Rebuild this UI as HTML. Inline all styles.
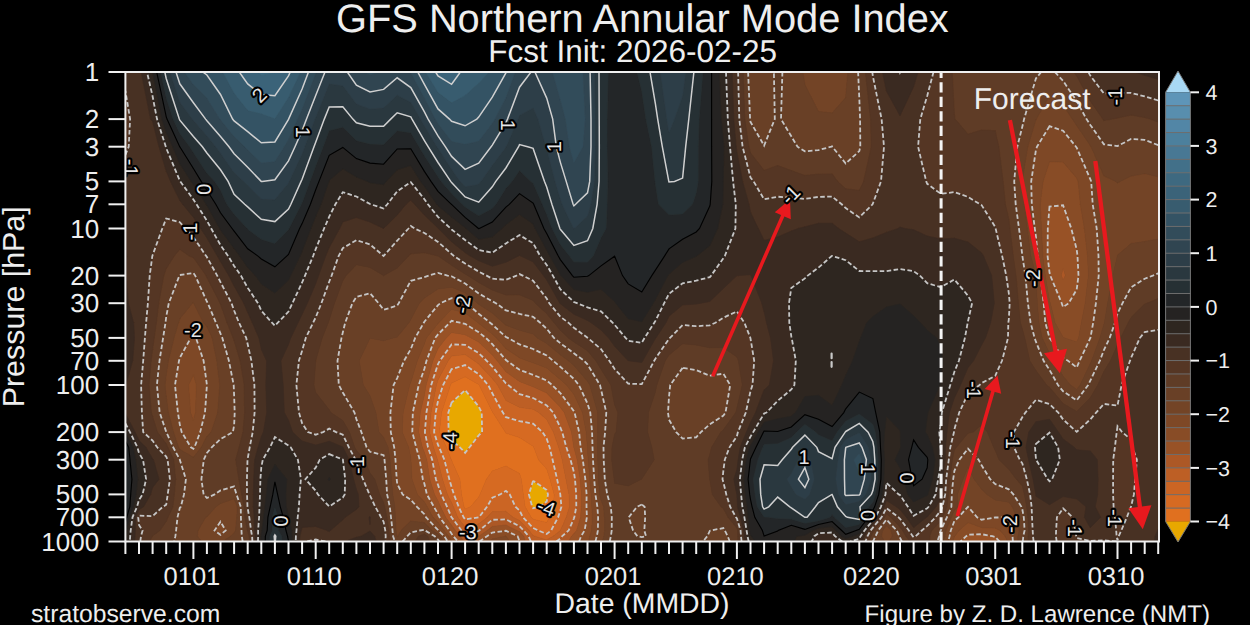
<!DOCTYPE html><html><head><meta charset="utf-8"><style>html,body{margin:0;padding:0;background:#000;overflow:hidden}svg{display:block}.n{fill:none;stroke:#c6c6c6;stroke-width:1.8;stroke-dasharray:4.6 2.4}.z{fill:none;stroke:#000;stroke-width:1.1}.p{fill:none;stroke:#d0d0d0;stroke-width:1.5}text{font-family:"Liberation Sans",sans-serif;fill:#eeeeee;text-rendering:geometricPrecision}.cl{font-size:20px;fill:#e6e6e6;stroke:#000;stroke-width:4.2px;paint-order:stroke;stroke-linejoin:round}</style></head><body>
<svg width="1250" height="625" viewBox="0 0 1250 625">
<rect width="1250" height="625" fill="#000"/>
<defs><clipPath id="pc"><rect x="125.4" y="72.0" width="1033.6" height="469.5"/></clipPath></defs>
<g clip-path="url(#pc)"><rect x="125.4" y="72.0" width="1033.6" height="469.5" fill="#483123"/>
<g stroke-width="0.6" fill-rule="evenodd">
<path fill="#e8a800" stroke="#e8a800" d="M451.6 402.6 465.1 390.1 478.7 406.5 481.7 412.6 482.1 432.1 478.7 435.4 469.5 447.3 465.1 452.8 459.9 447.3 451.6 440.1 448.6 432.1 448.3 412.6Z M533.1 480.7 546.7 490.0 548.0 494.4 546.7 501.6 539.1 506.8 533.1 508.2 532.2 506.8 528.9 494.4Z"/>
<path fill="#e0701f" stroke="#e0701f" d="M451.6 383.1 465.1 376.7 478.7 384.5 479.2 385.0 492.3 411.7 492.8 412.6 505.3 432.1 505.9 433.0 519.5 437.6 533.1 446.2 533.8 447.3 538.5 459.7 546.7 468.9 550.0 479.2 554.2 494.4 553.4 506.8 549.6 517.3 546.7 522.4 533.1 519.3 531.2 517.3 525.1 506.8 523.3 494.4 521.4 479.2 519.5 473.6 505.9 466.1 492.3 471.1 486.4 479.2 480.0 494.4 478.7 497.1 470.6 506.8 465.1 509.1 464.0 506.8 461.6 494.4 459.9 479.2 451.6 460.5 451.3 459.7 446.4 447.3 439.4 432.1 441.5 412.6 450.5 385.0Z M448.3 412.6 448.6 432.1 451.6 440.1 459.9 447.3 465.1 452.8 469.5 447.3 478.7 435.4 482.1 432.1 481.7 412.6 478.7 406.5 465.1 390.1 451.6 402.6Z M528.9 494.4 532.2 506.8 533.1 508.2 539.1 506.8 546.7 501.6 548.0 494.4 546.7 490.0 533.1 480.7Z"/>
<path fill="#d66a22" stroke="#d66a22" d="M451.6 369.1 465.1 365.1 478.7 374.2 488.2 385.0 492.3 393.3 502.9 412.6 505.9 417.2 519.5 421.1 533.1 423.7 542.5 432.1 546.7 438.6 549.6 447.3 552.6 459.7 557.1 479.2 560.3 494.3 560.3 494.4 561.4 506.8 560.3 510.6 558.1 517.3 551.1 530.5 546.7 534.0 538.2 530.5 533.1 528.0 522.9 517.3 519.5 510.4 515.4 506.8 509.7 494.4 505.9 490.8 500.1 494.4 492.3 497.7 487.0 506.8 478.9 517.3 478.7 517.4 465.1 519.3 463.6 517.3 458.7 506.8 453.9 494.4 451.6 487.0 449.3 479.2 444.4 459.7 439.1 447.3 438.0 444.9 434.1 432.1 435.7 412.6 438.0 401.1 443.1 385.0Z M450.5 385.0 441.5 412.6 439.4 432.1 446.4 447.3 451.3 459.7 451.6 460.5 459.9 479.2 461.6 494.4 464.0 506.8 465.1 509.1 470.6 506.8 478.7 497.1 480.0 494.4 486.4 479.2 492.3 471.1 505.9 466.1 519.5 473.6 521.4 479.2 523.3 494.4 525.1 506.8 531.2 517.3 533.1 519.3 546.7 522.4 549.6 517.3 553.4 506.8 554.2 494.4 550.0 479.2 546.7 468.9 538.5 459.7 533.8 447.3 533.1 446.2 519.5 437.6 505.9 433.0 505.3 432.1 492.8 412.6 492.3 411.7 479.2 385.0 478.7 384.5 465.1 376.7 451.6 383.1Z"/>
<path fill="#cb6524" stroke="#cb6524" d="M451.6 356.1 465.1 354.6 474.2 360.8 478.7 364.0 492.3 378.5 497.6 385.0 505.9 400.3 519.5 407.3 533.1 409.3 538.7 412.6 546.7 419.5 553.4 432.1 558.7 447.3 560.3 452.6 562.2 459.7 566.0 479.2 569.0 494.4 569.5 506.8 566.3 517.3 560.5 530.5 560.3 530.7 553.1 536.2 546.7 539.9 534.7 536.2 533.1 535.5 529.1 530.5 519.5 520.6 513.0 517.3 505.9 511.4 492.3 511.8 487.3 517.3 478.7 524.1 465.1 527.3 457.6 517.3 453.3 506.8 451.6 502.8 447.4 494.4 442.5 479.2 438.0 461.7 437.5 459.7 433.4 447.3 429.5 432.1 431.0 412.6 436.4 385.0 438.0 380.0 448.2 360.8Z M443.1 385.0 438.0 401.1 435.7 412.6 434.1 432.1 438.0 444.9 439.1 447.3 444.4 459.7 449.3 479.2 451.6 487.0 453.9 494.4 458.7 506.8 463.6 517.3 465.1 519.3 478.7 517.4 478.9 517.3 487.0 506.8 492.3 497.7 500.1 494.4 505.9 490.8 509.7 494.4 515.4 506.8 519.5 510.4 522.9 517.3 533.1 528.0 538.2 530.5 546.7 534.0 551.1 530.5 558.1 517.3 560.3 510.6 561.4 506.8 560.3 494.4 560.3 494.3 557.1 479.2 552.6 459.7 549.6 447.3 546.7 438.6 542.5 432.1 533.1 423.7 519.5 421.1 505.9 417.2 502.9 412.6 492.3 393.3 488.2 385.0 478.7 374.2 465.1 365.1 451.6 369.1Z"/>
<path fill="#bd5f25" stroke="#bd5f25" d="M451.6 344.4 465.1 344.8 478.7 353.1 486.7 360.8 492.3 366.5 505.9 383.4 508.2 385.0 519.5 394.1 533.1 398.0 546.7 405.4 553.2 412.6 560.3 427.3 562.2 432.1 566.4 447.3 570.5 459.7 573.9 472.1 575.0 479.2 576.2 494.4 576.3 506.8 574.3 517.3 573.9 518.5 568.6 530.5 562.2 536.2 560.3 538.5 556.4 541.5 546.7 541.5 533.1 541.5 531.0 541.5 528.6 536.2 523.6 530.5 519.5 526.2 505.9 519.4 492.3 519.8 479.2 530.5 478.7 530.8 465.1 534.3 461.5 530.5 451.6 517.3 451.5 517.3 447.1 506.8 441.3 494.4 438.0 484.9 435.9 479.2 432.2 459.7 428.0 447.3 424.9 432.1 426.4 412.6 431.2 385.0 438.0 364.1 439.8 360.8Z M448.2 360.8 438.0 380.0 436.4 385.0 431.0 412.6 429.5 432.1 433.4 447.3 437.5 459.7 438.0 461.7 442.5 479.2 447.4 494.4 451.6 502.8 453.3 506.8 457.6 517.3 465.1 527.3 478.7 524.1 487.3 517.3 492.3 511.8 505.9 511.4 513.0 517.3 519.5 520.6 529.1 530.5 533.1 535.5 534.7 536.2 546.7 539.9 553.1 536.2 560.3 530.7 560.5 530.5 566.3 517.3 569.5 506.8 569.0 494.4 566.0 479.2 562.2 459.7 560.3 452.6 558.7 447.3 553.4 432.1 546.7 419.5 538.7 412.6 533.1 409.3 519.5 407.3 505.9 400.3 497.6 385.0 492.3 378.5 478.7 364.0 474.2 360.8 465.1 354.6 451.6 356.1Z"/>
<path fill="#ac5826" stroke="#ac5826" d="M1063.1 268.1 1065.4 275.6 1063.1 280.1 1061.3 275.6Z M451.6 332.6 465.1 334.7 471.2 337.9 478.7 342.0 492.3 355.1 497.2 360.8 505.9 371.7 519.5 381.4 528.5 385.0 533.1 386.8 546.7 393.0 560.3 407.3 564.2 412.6 571.5 432.1 573.8 447.3 573.9 447.4 577.2 459.7 580.2 479.2 581.4 494.4 581.4 506.8 580.6 517.3 576.6 530.5 573.9 533.8 571.6 536.2 568.4 541.5 560.3 541.5 556.4 541.5 560.3 538.5 562.2 536.2 568.6 530.5 573.9 518.5 574.3 517.3 576.3 506.8 576.2 494.4 575.0 479.2 573.9 472.1 570.5 459.7 566.4 447.3 562.2 432.1 560.3 427.3 553.2 412.6 546.7 405.4 533.1 398.0 519.5 394.1 508.2 385.0 505.9 383.4 492.3 366.5 486.7 360.8 478.7 353.1 465.1 344.8 451.6 344.4 439.8 360.8 438.0 364.1 431.2 385.0 426.4 412.6 424.9 432.1 428.0 447.3 432.2 459.7 435.9 479.2 438.0 484.9 441.3 494.4 447.1 506.8 451.5 517.3 451.6 517.3 461.5 530.5 465.1 534.3 478.7 530.8 479.2 530.5 492.3 519.8 505.9 519.4 519.5 526.2 523.6 530.5 528.6 536.2 531.0 541.5 525.3 541.5 523.7 536.2 519.5 531.8 516.6 530.5 505.9 525.1 492.3 526.4 487.3 530.5 478.8 536.2 478.7 536.2 468.0 541.5 465.1 541.5 463.7 541.5 460.3 536.2 455.4 530.5 451.6 525.3 445.6 517.3 440.5 506.8 438.0 501.1 434.5 494.4 429.7 479.2 426.8 459.7 424.4 452.6 422.3 447.3 418.7 432.1 420.2 412.6 424.4 395.1 426.1 385.0 432.9 360.8 438.0 348.5 446.2 337.9Z M981.6 540.1 986.4 541.5 981.6 541.5 973.3 541.5Z"/>
<path fill="#985226" stroke="#985226" d="M1049.5 206.6 1063.1 205.3 1071.3 228.5 1076.7 249.5 1077.5 256.1 1078.5 275.6 1076.7 289.6 1068.7 303.2 1063.1 307.1 1061.7 303.2 1050.3 275.6 1049.5 272.5 1047.6 256.1 1047.8 228.5Z M1061.3 275.6 1063.1 280.1 1065.4 275.6 1063.1 268.1Z M451.6 320.8 460.0 322.7 465.1 323.8 478.7 332.2 485.8 337.9 492.3 344.2 505.9 360.0 506.9 360.8 519.5 369.8 533.1 374.9 546.7 380.5 552.0 385.0 560.3 393.0 573.9 411.1 574.6 412.6 579.1 432.1 580.6 447.3 582.8 459.7 585.3 479.2 586.6 494.4 586.5 506.8 586.9 517.3 584.6 530.5 581.1 536.2 579.1 541.5 573.9 541.5 568.4 541.5 571.6 536.2 573.9 533.8 576.6 530.5 580.6 517.3 581.4 506.8 581.4 494.4 580.2 479.2 577.2 459.7 573.9 447.4 573.8 447.3 571.5 432.1 564.2 412.6 560.3 407.3 546.7 393.0 533.1 386.8 528.5 385.0 519.5 381.4 505.9 371.7 497.2 360.8 492.3 355.1 478.7 342.0 471.2 337.9 465.1 334.7 451.6 332.6 446.2 337.9 438.0 348.5 432.9 360.8 426.1 385.0 424.4 395.1 420.2 412.6 418.7 432.1 422.3 447.3 424.4 452.6 426.8 459.7 429.7 479.2 434.5 494.4 438.0 501.1 440.5 506.8 445.6 517.3 451.6 525.3 455.4 530.5 460.3 536.2 463.7 541.5 458.0 541.5 453.3 536.2 451.6 533.8 449.5 530.5 439.6 517.3 438.0 514.0 433.9 506.8 426.9 494.4 424.4 483.8 422.8 479.2 419.7 459.7 416.2 447.3 412.3 432.1 412.8 412.6 418.7 385.0 424.4 368.7 426.5 360.8 435.2 337.9 438.0 334.4 449.7 322.7Z M492.3 526.4 505.9 525.1 516.6 530.5 519.5 531.8 523.7 536.2 525.3 541.5 519.6 541.5 519.5 541.2 517.6 536.2 505.9 530.8 492.3 532.6 487.0 536.2 479.3 541.5 478.7 541.5 468.0 541.5 478.7 536.2 478.8 536.2 487.3 530.5Z M968.0 534.7 981.6 534.2 992.3 536.2 995.2 536.9 999.6 541.5 995.2 541.5 986.4 541.5 981.6 540.1 973.3 541.5 968.0 541.5 960.5 541.5 966.2 536.2Z"/>
<path fill="#884c26" stroke="#884c26" d="M1049.5 161.6 1063.1 162.1 1076.7 178.0 1078.2 181.4 1080.4 204.3 1084.4 228.5 1087.6 256.1 1088.4 275.6 1085.2 303.2 1081.4 322.7 1078.6 337.9 1076.7 341.9 1064.6 337.9 1063.1 337.3 1055.0 322.7 1050.4 303.2 1049.5 301.0 1045.2 275.6 1042.7 256.1 1041.4 228.5 1040.2 204.3 1043.0 181.4Z M1047.8 228.5 1047.6 256.1 1049.5 272.5 1050.3 275.6 1061.7 303.2 1063.1 307.1 1068.7 303.2 1076.7 289.6 1078.5 275.6 1077.5 256.1 1076.7 249.5 1071.3 228.5 1063.1 205.3 1049.5 206.6Z M451.6 309.3 465.1 312.8 478.0 322.7 478.7 323.2 492.3 333.9 496.5 337.9 505.9 348.5 519.5 357.8 527.1 360.8 533.1 362.8 546.7 367.9 560.3 379.4 566.4 385.0 573.9 394.2 582.5 412.6 586.2 432.1 587.5 447.3 587.5 447.3 588.2 459.7 589.9 479.2 591.1 494.4 591.9 506.8 592.5 517.3 591.6 530.5 589.8 536.2 588.6 541.5 587.5 541.5 579.1 541.5 581.1 536.2 584.6 530.5 586.9 517.3 586.5 506.8 586.6 494.4 585.3 479.2 582.8 459.7 580.6 447.3 579.1 432.1 574.6 412.6 573.9 411.1 560.3 393.0 552.0 385.0 546.7 380.5 533.1 374.9 519.5 369.8 506.9 360.8 505.9 360.0 492.3 344.2 485.8 337.9 478.7 332.2 465.1 323.8 460.0 322.7 451.6 320.8 449.7 322.7 438.0 334.4 435.2 337.9 426.5 360.8 424.4 368.7 418.7 385.0 412.8 412.6 412.3 432.1 416.2 447.3 419.7 459.7 422.8 479.2 424.4 483.8 426.9 494.4 433.9 506.8 438.0 514.0 439.6 517.3 449.5 530.5 451.6 533.8 453.3 536.2 458.0 541.5 452.2 541.5 451.6 540.8 448.5 536.2 443.9 530.5 438.0 522.6 432.9 517.3 427.2 506.8 424.4 501.9 417.4 494.4 412.0 479.2 410.9 459.7 410.8 457.8 408.6 447.3 402.2 432.1 403.1 412.6 409.6 385.0 410.8 382.2 417.3 360.8 424.4 343.7 426.4 337.9 438.0 323.4 438.6 322.7Z M193.4 374.8 196.5 385.0 195.5 412.6 193.4 420.6 190.5 412.6 188.5 385.0Z M968.0 522.4 981.6 527.5 995.2 527.9 1000.2 530.5 1005.2 536.2 1007.5 541.5 999.6 541.5 995.2 536.9 992.3 536.2 981.6 534.2 968.0 534.7 966.2 536.2 960.5 541.5 954.4 541.5 952.9 541.5 954.4 536.6 954.7 536.2 959.0 530.5Z M492.3 532.6 505.9 530.8 517.6 536.2 519.5 541.2 519.6 541.5 519.5 541.5 509.7 541.5 506.0 536.2 505.9 536.1 505.5 536.2 492.3 539.0 489.2 541.5 479.3 541.5 487.0 536.2Z"/>
<path fill="#7e4826" stroke="#7e4826" d="M1049.5 126.2 1063.1 130.7 1076.0 146.7 1076.7 147.6 1090.3 179.2 1091.2 181.4 1092.7 204.3 1096.7 228.5 1098.5 256.1 1098.7 275.6 1095.9 303.2 1093.2 322.7 1090.4 337.9 1090.3 338.1 1079.6 360.8 1076.7 367.5 1068.0 360.8 1063.1 358.1 1049.6 337.9 1049.5 337.8 1045.3 322.7 1043.7 303.2 1040.5 275.6 1037.9 256.1 1035.9 236.1 1034.8 228.5 1031.8 204.3 1031.2 181.4 1035.9 150.1 1037.0 146.7Z M1043.0 181.4 1040.2 204.3 1041.4 228.5 1042.7 256.1 1045.2 275.6 1049.5 301.0 1050.4 303.2 1055.0 322.7 1063.1 337.3 1064.6 337.9 1076.7 341.9 1078.6 337.9 1081.4 322.7 1085.2 303.2 1088.4 275.6 1087.6 256.1 1084.4 228.5 1080.4 204.3 1078.2 181.4 1076.7 178.0 1063.1 162.1 1049.5 161.6Z M451.6 298.1 465.2 302.0 466.6 303.2 478.7 313.7 490.1 322.7 492.3 324.5 505.9 337.0 507.8 337.9 519.5 344.4 533.1 349.0 546.7 355.5 553.2 360.8 560.3 366.8 573.9 378.9 578.9 385.0 587.5 403.6 590.3 412.6 592.1 432.1 592.5 447.3 593.0 459.7 594.2 479.2 595.4 494.4 597.4 506.8 598.1 517.3 597.9 530.5 596.8 536.2 595.4 541.5 588.6 541.5 589.8 536.2 591.6 530.5 592.5 517.3 591.9 506.8 591.1 494.4 589.9 479.2 588.2 459.7 587.5 447.3 587.5 447.3 586.2 432.1 582.5 412.6 573.9 394.2 566.4 385.0 560.3 379.4 546.7 367.9 533.1 362.8 527.1 360.8 519.5 357.8 505.9 348.5 496.5 337.9 492.3 333.9 478.7 323.2 478.0 322.7 465.1 312.8 451.6 309.3 438.6 322.7 438.0 323.4 426.4 337.9 424.4 343.7 417.3 360.8 410.8 382.2 409.6 385.0 403.1 412.6 402.2 432.1 408.6 447.3 410.8 457.8 410.9 459.7 412.0 479.2 417.4 494.4 424.4 501.9 427.2 506.8 432.9 517.3 438.0 522.6 443.9 530.5 448.5 536.2 451.6 540.8 452.2 541.5 451.6 541.5 447.7 541.5 444.3 536.2 438.3 530.5 438.0 530.0 426.0 517.3 424.4 514.2 417.0 506.8 410.8 499.7 402.6 494.4 397.2 483.8 396.7 479.2 395.5 459.7 394.2 447.3 390.8 432.1 390.4 412.6 393.6 385.0 397.2 378.1 404.0 360.8 410.8 349.1 415.2 337.9 423.8 322.7 424.4 321.7 438.0 305.1 440.4 303.2Z M193.3 335.0 196.0 337.9 203.6 360.8 206.9 384.8 207.0 385.0 206.9 385.2 205.0 412.6 200.2 432.1 194.5 447.3 193.4 448.8 190.9 447.3 181.7 432.1 179.8 424.6 177.9 412.6 175.0 385.0 179.0 360.8 179.8 357.8 190.8 337.9Z M188.5 385.0 190.5 412.6 193.4 420.6 195.5 412.6 196.5 385.0 193.4 374.8Z M968.0 506.8 968.0 506.8 977.1 517.3 981.6 519.7 995.2 517.5 1008.8 517.4 1012.7 530.5 1012.5 536.2 1012.9 541.5 1008.8 541.5 1007.5 541.5 1005.2 536.2 1000.2 530.5 995.2 527.9 981.6 527.5 968.0 522.4 959.0 530.5 954.7 536.2 954.4 536.6 952.9 541.5 948.2 541.5 949.6 536.2 950.8 530.5 954.4 520.9 958.4 517.3 968.0 506.8Z M220.5 521.7 225.7 530.5 220.5 534.8 214.5 530.5Z M505.9 536.1 506.0 536.2 509.7 541.5 505.9 541.5 492.3 541.5 489.2 541.5 492.3 539.0 505.5 536.2Z"/>
<path fill="#734426" stroke="#734426" d="M804.9 72.0 818.5 72.0 832.1 72.0 845.7 72.0 847.8 72.0 845.7 97.7 832.1 113.1 818.5 111.5 804.9 84.5 802.8 72.0Z M1049.5 95.4 1063.1 104.8 1072.3 119.1 1076.7 125.4 1090.3 145.4 1091.1 146.7 1103.9 175.8 1115.7 181.4 1117.5 183.1 1119.9 181.4 1131.1 176.1 1144.7 173.6 1158.2 176.7 1158.2 181.4 1158.2 204.3 1158.2 228.5 1158.2 239.0 1144.7 241.6 1131.1 243.6 1117.5 255.2 1117.3 256.1 1112.9 275.6 1107.6 303.2 1104.4 322.7 1103.9 324.3 1099.9 337.9 1091.6 360.8 1090.3 363.6 1080.1 385.0 1076.7 389.5 1070.5 385.0 1063.1 376.3 1054.4 360.8 1049.5 353.3 1042.2 337.9 1038.9 322.7 1037.3 303.2 1035.9 276.7 1035.8 275.6 1030.8 256.1 1027.2 228.5 1024.2 204.3 1022.3 183.3 1022.2 181.4 1022.3 180.2 1027.7 146.7 1035.9 119.7 1036.3 119.1Z M1037.0 146.7 1035.9 150.1 1031.2 181.4 1031.8 204.3 1034.8 228.5 1035.9 236.1 1037.9 256.1 1040.5 275.6 1043.7 303.2 1045.3 322.7 1049.5 337.8 1049.6 337.9 1063.1 358.1 1068.0 360.8 1076.7 367.5 1079.6 360.8 1090.3 338.1 1090.4 337.9 1093.2 322.7 1095.9 303.2 1098.7 275.6 1098.5 256.1 1096.7 228.5 1092.7 204.3 1091.2 181.4 1090.3 179.2 1076.7 147.6 1076.0 146.7 1063.1 130.7 1049.5 126.2Z M193.4 302.3 193.7 303.2 203.6 322.7 206.9 326.3 212.2 337.9 216.8 360.8 219.8 385.0 217.7 412.6 211.2 432.1 206.9 436.4 201.4 447.3 193.4 457.2 179.8 449.4 178.6 447.3 173.4 432.1 168.3 412.6 166.2 396.1 165.0 385.0 166.2 375.0 168.4 360.8 173.9 337.9 178.5 322.7 179.8 318.7 192.4 303.2Z M190.8 337.9 179.8 357.8 179.0 360.8 175.0 385.0 177.9 412.6 179.8 424.6 181.7 432.1 190.9 447.3 193.4 448.8 194.5 447.3 200.2 432.1 205.0 412.6 206.9 385.2 207.0 385.0 206.9 384.8 203.6 360.8 196.0 337.9 193.4 335.0Z M424.4 298.0 438.0 289.0 451.6 287.2 465.1 292.7 477.5 303.2 478.7 304.2 492.3 313.1 503.1 322.7 505.9 325.2 519.5 330.3 533.1 334.0 537.4 337.9 546.7 343.5 560.3 354.7 568.5 360.8 573.9 365.4 587.5 381.2 589.8 385.0 597.7 412.6 597.7 432.1 597.5 447.3 597.8 459.7 598.5 479.2 599.7 494.4 601.0 500.3 603.6 506.8 604.5 517.3 604.7 530.5 603.9 536.2 602.3 541.5 601.0 541.5 595.4 541.5 596.8 536.2 597.9 530.5 598.1 517.3 597.4 506.8 595.4 494.4 594.2 479.2 593.0 459.7 592.5 447.3 592.1 432.1 590.3 412.6 587.5 403.6 578.9 385.0 573.9 378.9 560.3 366.8 553.2 360.8 546.7 355.5 533.1 349.0 519.5 344.4 507.8 337.9 505.9 337.0 492.3 324.5 490.1 322.7 478.7 313.7 466.6 303.2 465.1 302.0 451.6 298.1 440.4 303.2 438.0 305.1 424.4 321.7 423.8 322.7 415.2 337.9 410.8 349.1 404.0 360.8 397.2 378.1 393.6 385.0 390.4 412.6 390.8 432.1 394.2 447.3 395.5 459.7 396.7 479.2 397.2 483.8 402.6 494.4 410.8 499.7 417.0 506.8 424.4 514.2 426.0 517.3 438.0 530.0 438.3 530.5 444.3 536.2 447.7 541.5 443.4 541.5 440.1 536.2 438.0 534.1 431.8 530.5 424.4 522.7 410.8 521.1 401.1 530.5 398.0 536.2 397.2 537.0 396.9 536.2 396.0 530.5 395.2 517.3 394.9 506.8 392.8 494.4 391.4 479.2 390.0 459.7 388.0 447.3 383.6 437.4 379.0 432.1 375.9 412.6 370.0 395.7 363.3 385.0 359.2 360.8 370.0 338.2 383.6 340.8 393.2 337.9 397.2 337.1 408.9 322.7 410.8 319.6 419.3 303.2Z M968.0 466.7 974.1 479.2 981.6 489.3 987.0 494.4 995.2 499.9 1008.8 502.2 1012.3 506.8 1017.0 517.3 1019.3 530.5 1018.0 536.2 1017.8 541.5 1012.9 541.5 1012.5 536.2 1012.7 530.5 1008.8 517.4 995.2 517.5 981.6 519.7 977.1 517.3 968.0 506.8 968.0 506.8 968.0 506.8 958.4 517.3 954.4 520.9 950.8 530.5 949.6 536.2 948.2 541.5 943.4 541.5 944.8 536.2 945.8 530.5 951.2 517.3 954.4 510.2 957.9 506.8 957.4 494.4 963.0 479.2Z M220.5 503.4 234.1 498.8 237.4 506.8 236.8 517.3 235.5 530.5 234.1 533.0 230.7 536.2 222.3 541.5 220.5 541.5 206.9 541.5 201.7 541.5 197.3 536.2 198.0 530.5 205.7 517.3 206.9 516.7 216.0 506.8Z M214.5 530.5 220.5 534.8 225.7 530.5 220.5 521.7Z M886.4 525.4 891.3 530.5 892.4 536.2 888.8 541.5 886.4 541.5 884.6 541.5 881.4 536.2 882.6 530.5Z"/>
<path fill="#694026" stroke="#694026" d="M750.5 72.0 764.1 72.0 773.9 72.0 774.8 119.1 764.1 145.6 750.5 121.9 750.1 119.1 748.1 72.0Z M791.3 72.0 802.8 72.0 804.9 84.5 818.5 111.5 832.1 113.1 845.7 97.7 847.8 72.0 858.1 72.0 859.3 98.5 860.1 119.1 860.3 146.7 859.3 151.1 845.7 163.5 832.3 146.7 832.1 146.4 831.3 146.7 818.5 150.1 804.9 151.3 797.5 146.7 791.3 136.3 781.0 119.1 782.4 72.0Z M1035.9 78.5 1041.2 72.0 1049.5 72.0 1054.9 72.0 1063.1 80.9 1076.7 101.1 1086.5 119.1 1090.3 124.9 1103.9 144.3 1117.5 146.1 1131.1 139.0 1144.7 139.9 1158.2 145.2 1158.2 146.7 1158.2 176.7 1144.7 173.6 1131.1 176.1 1119.9 181.4 1117.5 183.1 1115.7 181.4 1103.9 175.8 1091.1 146.7 1090.3 145.4 1076.7 125.4 1072.3 119.1 1063.1 104.8 1049.5 95.4 1036.3 119.1 1035.9 119.7 1027.7 146.7 1022.3 180.2 1022.2 181.4 1022.3 183.3 1024.2 204.3 1027.2 228.5 1030.8 256.1 1035.8 275.6 1035.9 276.7 1037.3 303.2 1038.9 322.7 1042.2 337.9 1049.5 353.3 1054.4 360.8 1063.1 376.3 1070.5 385.0 1076.7 389.5 1080.1 385.0 1090.3 363.6 1091.6 360.8 1099.9 337.9 1103.9 324.3 1104.4 322.7 1107.6 303.2 1112.9 275.6 1117.3 256.1 1117.5 255.2 1131.1 243.6 1144.7 241.6 1158.2 239.0 1158.2 256.1 1158.2 273.3 1152.8 275.6 1144.7 278.7 1131.1 287.3 1122.5 303.2 1117.5 313.5 1115.0 322.7 1109.7 337.9 1103.9 350.1 1099.8 360.8 1090.3 380.6 1088.2 385.0 1076.7 400.4 1063.1 391.3 1058.0 385.0 1049.5 369.9 1043.6 360.8 1035.9 341.7 1034.6 337.9 1030.6 322.7 1027.9 303.2 1025.4 275.6 1022.4 256.1 1022.3 255.1 1019.0 228.5 1015.7 204.3 1014.2 181.4 1017.3 146.7 1022.3 126.7 1024.1 119.1Z M179.8 275.0 193.4 273.0 195.2 275.6 206.9 301.5 207.8 303.2 216.0 322.7 220.5 333.6 222.3 337.9 228.9 360.8 233.7 385.0 234.1 394.9 234.7 412.6 234.1 425.6 232.9 432.1 220.5 439.1 211.7 447.3 206.9 453.0 203.8 459.7 201.4 479.2 203.6 494.4 206.9 498.0 214.6 494.4 220.5 490.4 234.1 486.4 236.5 494.4 240.8 506.8 240.9 517.3 241.5 530.5 241.8 536.2 242.7 541.5 234.1 541.5 222.3 541.5 230.7 536.2 234.1 533.0 235.5 530.5 236.8 517.3 237.4 506.8 234.1 498.8 220.5 503.4 216.0 506.8 206.9 516.7 205.7 517.3 198.0 530.5 197.3 536.2 201.7 541.5 193.4 541.5 179.8 541.5 174.1 541.5 175.4 536.2 176.1 530.5 177.5 517.3 179.8 508.0 180.8 506.8 184.0 494.4 185.9 479.2 179.8 459.7 179.8 459.6 173.2 447.3 166.3 432.1 166.2 431.8 159.7 412.6 156.9 385.0 159.5 360.8 163.1 337.9 165.5 322.7 166.2 316.8 168.8 303.2 179.4 275.6Z M192.4 303.2 179.8 318.7 178.5 322.7 173.9 337.9 168.4 360.8 166.2 375.0 165.0 385.0 166.2 396.1 168.3 412.6 173.4 432.1 178.6 447.3 179.8 449.4 193.4 457.2 201.4 447.3 206.9 436.4 211.2 432.1 217.7 412.6 219.8 385.0 216.8 360.8 212.2 337.9 206.9 326.3 203.6 322.7 193.7 303.2 193.4 302.3Z M438.0 272.9 447.5 275.6 451.6 276.3 465.1 283.5 478.7 293.4 492.3 301.3 495.9 303.2 505.9 310.4 519.5 313.9 533.1 316.8 540.2 322.7 546.7 328.7 554.0 337.9 560.3 343.2 573.9 353.3 584.1 360.8 587.5 364.4 600.0 385.0 601.0 389.3 606.3 412.6 605.1 432.1 603.5 447.3 603.7 459.7 604.8 479.2 607.2 494.4 610.8 506.8 611.8 517.3 611.7 530.5 610.9 536.2 609.7 541.5 602.3 541.5 603.9 536.2 604.7 530.5 604.5 517.3 603.6 506.8 601.0 500.3 599.7 494.4 598.5 479.2 597.8 459.7 597.5 447.3 597.7 432.1 597.7 412.6 589.8 385.0 587.5 381.2 573.9 365.4 568.5 360.8 560.3 354.7 546.7 343.5 537.4 337.9 533.1 334.0 519.5 330.3 505.9 325.2 503.1 322.7 492.3 313.1 478.7 304.2 477.5 303.2 465.1 292.7 451.6 287.2 438.0 289.0 424.4 298.0 419.3 303.2 410.8 319.6 408.9 322.7 397.2 337.1 393.2 337.9 383.6 340.8 370.0 338.2 359.2 360.8 363.3 385.0 370.0 395.7 375.9 412.6 379.0 432.1 383.6 437.4 388.0 447.3 390.0 459.7 391.4 479.2 392.8 494.4 394.9 506.8 395.2 517.3 396.0 530.5 396.9 536.2 397.2 537.0 398.0 536.2 401.1 530.5 410.8 521.1 424.4 522.7 431.8 530.5 438.0 534.1 440.1 536.2 443.4 541.5 439.1 541.5 438.0 539.6 434.7 536.2 425.1 530.5 424.4 529.7 419.5 530.5 410.8 532.4 407.3 536.2 402.5 541.5 397.2 541.5 394.8 541.5 393.1 536.2 392.5 530.5 391.0 517.3 389.8 506.8 387.1 494.4 386.2 479.2 384.5 459.7 383.6 455.2 370.0 451.8 366.6 447.3 361.4 432.1 356.4 419.1 354.5 412.6 342.8 392.5 338.8 385.0 337.5 360.8 341.5 337.9 342.8 332.5 345.2 322.7 352.4 303.2 356.4 297.0 370.0 293.2 378.6 303.2 383.6 309.8 397.2 305.6 398.7 303.2 410.8 280.8 424.4 277.1 428.6 275.6Z M682.6 367.9 696.2 370.1 709.8 375.7 723.4 373.7 730.2 385.0 725.5 412.6 723.4 415.5 709.8 424.4 700.9 432.1 696.2 437.3 682.6 438.6 676.2 432.1 669.0 419.6 668.0 412.6 669.0 396.9 670.2 385.0Z M968.0 448.7 978.6 459.7 981.6 465.3 990.2 479.2 995.2 484.1 1008.8 489.3 1013.4 494.4 1021.4 506.8 1022.3 509.2 1023.8 517.3 1024.6 530.5 1023.3 536.2 1022.8 541.5 1022.3 541.5 1017.8 541.5 1018.0 536.2 1019.3 530.5 1017.0 517.3 1012.3 506.8 1008.8 502.2 995.2 499.9 987.0 494.4 981.6 489.3 974.1 479.2 968.0 466.7 963.0 479.2 957.4 494.4 957.9 506.8 954.4 510.2 951.2 517.3 945.8 530.5 944.8 536.2 943.4 541.5 940.8 541.5 937.4 541.5 939.1 536.2 940.7 530.5 940.8 530.4 946.9 517.3 951.4 506.8 951.8 494.4 953.2 479.2 954.4 470.8 959.4 459.7Z M641.8 504.5 644.6 506.8 645.2 517.3 644.3 530.5 646.0 536.2 641.8 537.2 637.4 536.2 633.1 530.5 628.7 517.3 637.1 506.8Z M723.4 528.1 724.8 530.5 727.7 536.2 729.8 541.5 723.4 541.5 709.8 541.5 703.0 541.5 707.3 536.2 709.8 530.8 710.4 530.5Z M886.4 519.6 896.8 530.5 899.4 536.2 900.0 537.7 901.8 541.5 900.0 541.5 888.8 541.5 892.4 536.2 891.3 530.5 886.4 525.4 882.6 530.5 881.4 536.2 884.6 541.5 873.0 541.5 875.5 536.2 878.2 530.5Z"/>
<path fill="#5f3c26" stroke="#5f3c26" d="M750.1 119.1 750.5 121.9 764.1 145.6 774.8 119.1 773.9 72.0 777.7 72.0 782.4 72.0 781.0 119.1 791.3 136.3 797.5 146.7 804.9 151.3 818.5 150.1 831.3 146.7 832.1 146.4 832.3 146.7 845.7 163.5 859.3 151.1 860.3 146.7 860.1 119.1 859.3 98.5 858.1 72.0 859.3 72.0 865.4 72.0 870.6 119.1 871.3 146.7 863.6 181.4 859.3 190.4 845.7 188.7 837.6 181.4 832.1 173.9 818.5 174.1 804.9 175.5 791.3 170.6 777.7 165.6 764.1 170.4 750.5 152.9 748.9 146.7 744.7 119.1 743.1 72.0 748.1 72.0Z M954.4 72.0 968.0 72.0 981.6 72.0 995.2 72.0 1008.8 72.0 1022.3 72.0 1035.9 72.0 1041.2 72.0 1035.9 78.5 1024.1 119.1 1022.3 126.7 1017.3 146.7 1014.2 181.4 1015.7 204.3 1019.0 228.5 1022.3 255.1 1022.4 256.1 1025.4 275.6 1027.9 303.2 1030.6 322.7 1034.6 337.9 1035.9 341.7 1043.6 360.8 1049.5 369.9 1058.0 385.0 1063.1 391.3 1076.7 400.4 1088.2 385.0 1090.3 380.6 1099.8 360.8 1103.9 350.1 1109.7 337.9 1115.0 322.7 1117.5 313.5 1122.5 303.2 1131.1 287.3 1144.7 278.7 1152.8 275.6 1158.2 273.3 1158.2 275.6 1158.2 298.6 1147.0 303.2 1144.7 304.1 1131.1 317.5 1128.2 322.7 1120.7 337.9 1117.5 344.8 1110.5 360.8 1103.9 371.6 1097.8 385.0 1090.3 397.7 1076.7 411.4 1063.1 403.6 1049.5 387.3 1046.6 385.0 1035.9 370.4 1029.8 360.8 1024.8 337.9 1022.3 328.7 1020.4 322.7 1018.4 303.2 1016.0 275.6 1013.3 256.1 1009.9 228.5 1008.8 219.1 1005.4 204.3 1003.1 181.4 998.8 146.7 995.2 130.7 981.6 130.0 968.0 134.2 955.1 119.1 954.4 114.8 952.2 72.0Z M1063.1 72.0 1074.0 72.0 1076.7 75.9 1090.3 100.9 1102.9 119.1 1103.9 120.5 1112.0 119.1 1117.5 118.1 1131.1 115.0 1144.7 117.5 1150.0 119.1 1158.2 121.9 1158.2 145.2 1144.7 139.9 1131.1 139.0 1117.5 146.1 1103.9 144.3 1090.3 124.9 1086.5 119.1 1076.7 101.1 1063.1 80.9 1054.9 72.0Z M179.8 249.3 189.3 256.1 193.4 257.6 206.1 275.6 206.9 277.4 220.1 303.2 220.5 304.2 227.1 322.7 233.2 337.9 234.1 340.8 240.2 360.8 244.2 385.0 244.6 412.6 243.0 432.1 239.1 447.3 235.7 459.7 238.9 479.2 241.7 494.4 244.1 506.8 244.9 517.3 247.5 530.5 247.7 530.9 249.1 536.2 249.7 541.5 247.7 541.5 242.7 541.5 241.8 536.2 241.5 530.5 240.9 517.3 240.8 506.8 236.5 494.4 234.1 486.4 220.5 490.4 214.6 494.4 206.9 498.0 203.6 494.4 201.4 479.2 203.8 459.7 206.9 453.0 211.7 447.3 220.5 439.1 232.9 432.1 234.1 425.6 234.7 412.6 234.1 394.9 233.7 385.0 228.9 360.8 222.3 337.9 220.5 333.6 216.0 322.7 207.8 303.2 206.9 301.5 195.2 275.6 193.4 273.0 179.8 275.0 179.4 275.6 168.8 303.2 166.2 316.8 165.5 322.7 163.1 337.9 159.5 360.8 156.9 385.0 159.7 412.6 166.2 431.8 166.3 432.1 173.2 447.3 179.8 459.6 179.8 459.7 185.9 479.2 184.0 494.4 180.8 506.8 179.8 508.0 177.5 517.3 176.1 530.5 175.4 536.2 174.1 541.5 166.2 541.5 152.6 541.5 149.6 541.5 152.2 536.2 152.6 535.9 159.9 530.5 166.2 521.5 168.0 517.3 172.9 506.8 174.3 494.4 175.6 479.2 173.7 459.7 167.8 447.3 166.2 443.8 157.4 432.1 152.6 416.6 151.3 412.6 149.0 385.0 151.2 360.8 152.6 349.2 154.2 337.9 156.4 322.7 158.7 303.2 163.8 275.6 166.2 268.8 174.2 256.1Z M410.8 253.8 424.4 252.7 438.0 255.9 438.2 256.1 451.6 265.3 465.1 274.0 467.8 275.6 478.7 282.5 492.3 290.0 505.9 295.0 519.5 294.7 533.1 300.5 535.2 303.2 546.7 313.6 554.1 322.7 560.3 330.3 568.5 337.9 573.9 341.9 587.5 350.7 595.9 360.8 601.0 369.2 610.8 385.0 614.6 404.8 617.9 412.6 616.1 432.1 614.6 434.4 612.0 447.3 611.7 459.7 614.1 479.2 614.6 483.2 628.2 485.9 641.4 479.2 641.8 478.8 654.2 459.7 651.8 447.3 647.6 432.1 648.5 412.6 655.4 392.1 656.8 385.0 665.2 360.8 669.0 355.1 682.6 343.8 696.2 345.0 709.8 347.8 723.4 347.5 736.9 357.0 738.4 360.8 742.3 385.0 736.9 408.0 735.8 412.6 723.4 429.7 720.8 432.1 711.6 447.3 709.8 454.6 708.0 459.7 709.7 479.2 709.8 479.5 712.3 494.4 721.0 506.8 723.4 508.4 728.0 517.3 736.9 528.1 737.7 530.5 737.8 536.2 738.0 541.5 736.9 541.5 729.8 541.5 727.7 536.2 724.8 530.5 723.4 528.1 710.4 530.5 709.8 530.8 707.3 536.2 703.0 541.5 696.2 541.5 682.6 541.5 669.0 541.5 655.4 541.5 641.8 541.5 628.2 541.5 614.6 541.5 609.7 541.5 610.9 536.2 611.7 530.5 611.8 517.3 610.8 506.8 607.2 494.4 604.8 479.2 603.7 459.7 603.5 447.3 605.1 432.1 606.3 412.6 601.0 389.3 600.0 385.0 587.5 364.4 584.1 360.8 573.9 353.3 560.3 343.2 554.0 337.9 546.7 328.7 540.2 322.7 533.1 316.8 519.5 313.9 505.9 310.4 495.9 303.2 492.3 301.3 478.7 293.4 465.1 283.5 451.6 276.3 447.5 275.6 438.0 272.9 428.6 275.6 424.4 277.1 410.8 280.8 398.7 303.2 397.2 305.6 383.6 309.8 378.6 303.2 370.0 293.2 356.4 297.0 352.4 303.2 345.2 322.7 342.8 332.5 341.5 337.9 337.5 360.8 338.8 385.0 342.8 392.5 354.5 412.6 356.4 419.1 361.4 432.1 366.6 447.3 370.0 451.8 383.6 455.2 384.5 459.7 386.2 479.2 387.1 494.4 389.8 506.8 391.0 517.3 392.5 530.5 393.1 536.2 394.8 541.5 390.1 541.5 389.4 536.2 388.9 530.5 386.8 517.3 384.7 506.8 383.6 502.5 379.7 494.4 374.8 479.2 370.0 472.9 364.5 459.7 356.4 450.4 354.7 447.3 349.4 432.1 342.8 420.5 330.8 412.6 329.2 409.7 315.7 392.4 313.9 385.0 315.7 361.2 315.7 360.8 322.2 337.9 328.2 322.7 329.3 319.8 334.5 303.2 342.8 280.7 346.1 275.6 356.4 264.7 370.0 267.4 383.5 275.6 383.6 275.7 383.8 275.6 397.2 268.1 408.6 256.1Z M670.2 385.0 669.0 396.9 668.0 412.6 669.0 419.6 676.2 432.1 682.6 438.6 696.2 437.3 700.9 432.1 709.8 424.4 723.4 415.5 725.5 412.6 730.2 385.0 723.4 373.7 709.8 375.7 696.2 370.1 682.6 367.9Z M637.1 506.8 628.7 517.3 633.1 530.5 637.4 536.2 641.8 537.2 646.0 536.2 644.3 530.5 645.2 517.3 644.6 506.8 641.8 504.5Z M981.6 424.8 987.4 432.1 993.7 447.3 995.2 450.5 999.1 459.7 1008.8 469.2 1016.3 479.2 1022.3 485.7 1024.4 494.4 1026.7 506.8 1027.9 517.3 1028.7 530.5 1028.2 536.2 1028.2 541.5 1022.8 541.5 1023.3 536.2 1024.6 530.5 1023.8 517.3 1022.3 509.2 1021.4 506.8 1013.4 494.4 1008.8 489.3 995.2 484.1 990.2 479.2 981.6 465.3 978.6 459.7 968.0 448.7 959.4 459.7 954.4 470.8 953.2 479.2 951.8 494.4 951.4 506.8 946.9 517.3 940.8 530.4 940.7 530.5 939.1 536.2 937.4 541.5 929.9 541.5 929.7 536.2 931.7 530.5 940.8 521.0 942.5 517.3 946.9 506.8 948.5 494.4 949.7 479.2 952.4 459.7 954.4 450.0 956.4 447.3 968.0 433.3 973.2 432.1Z M886.4 513.8 891.0 517.3 900.0 527.1 902.6 530.5 906.1 536.2 909.9 541.5 901.8 541.5 900.0 537.7 899.4 536.2 896.8 530.5 886.4 519.6 878.2 530.5 875.5 536.2 873.0 541.5 872.9 541.5 869.1 541.5 871.0 536.2 872.8 532.1 873.8 530.5 884.6 517.3Z M424.4 529.7 425.1 530.5 434.7 536.2 438.0 539.6 439.1 541.5 438.0 541.5 429.6 541.5 427.7 536.2 424.4 534.2 418.5 536.2 415.2 541.5 410.8 541.5 402.5 541.5 407.3 536.2 410.8 532.4 419.5 530.5Z"/>
<path fill="#553624" stroke="#553624" d="M130.1 119.1 128.7 146.7 125.4 154.9 125.4 146.7 125.4 119.1 125.4 91.0Z M744.7 119.1 748.9 146.7 750.5 152.9 764.1 170.4 777.7 165.6 791.3 170.6 804.9 175.5 818.5 174.1 832.1 173.9 837.6 181.4 845.7 188.7 859.3 190.4 863.6 181.4 871.3 146.7 870.6 119.1 865.4 72.0 872.3 72.0 872.9 76.3 881.6 119.1 884.0 146.7 881.0 181.4 872.9 203.5 872.6 204.3 859.3 217.4 845.7 208.1 841.7 204.3 832.1 196.6 818.5 196.9 804.9 198.9 791.3 197.7 777.7 196.7 764.1 199.3 753.6 181.4 750.5 177.5 742.6 146.7 739.3 119.1 738.1 72.0 743.1 72.0Z M927.2 95.9 933.5 72.0 940.8 72.0 952.2 72.0 954.4 114.8 955.1 119.1 968.0 134.2 981.6 130.0 995.2 130.7 998.8 146.7 1003.1 181.4 1005.4 204.3 1008.8 219.1 1009.9 228.5 1013.3 256.1 1016.0 275.6 1018.4 303.2 1020.4 322.7 1022.3 328.7 1024.8 337.9 1029.8 360.8 1035.9 370.4 1046.6 385.0 1049.5 387.3 1063.1 403.6 1076.7 411.4 1090.3 397.7 1097.8 385.0 1103.9 371.6 1110.5 360.8 1117.5 344.8 1120.7 337.9 1128.2 322.7 1131.1 317.5 1144.7 304.1 1147.0 303.2 1158.2 298.6 1158.2 303.2 1158.2 322.7 1158.2 329.8 1144.7 332.0 1139.9 337.9 1131.1 357.8 1130.0 360.8 1121.6 385.0 1117.5 405.5 1103.9 403.9 1096.1 412.6 1090.3 419.4 1076.7 431.9 1063.1 419.5 1058.3 412.6 1049.5 404.1 1035.9 399.8 1025.4 412.6 1022.3 417.2 1013.9 432.1 1014.0 447.3 1019.7 459.7 1022.3 463.3 1026.8 479.2 1030.1 494.4 1031.6 506.8 1032.0 517.3 1032.7 530.5 1033.0 536.2 1033.6 541.5 1028.2 541.5 1028.2 536.2 1028.7 530.5 1027.9 517.3 1026.7 506.8 1024.4 494.4 1022.3 485.7 1016.3 479.2 1008.8 469.2 999.1 459.7 995.2 450.5 993.7 447.3 987.4 432.1 981.6 424.8 973.2 432.1 968.0 433.3 956.4 447.3 954.4 450.0 952.4 459.7 949.7 479.2 948.5 494.4 946.9 506.8 942.5 517.3 940.8 521.0 931.7 530.5 929.7 536.2 929.9 541.5 927.2 541.5 913.6 541.5 909.9 541.5 906.1 536.2 902.6 530.5 900.0 527.1 891.0 517.3 886.4 513.8 884.6 517.3 873.8 530.5 872.9 532.1 871.0 536.2 869.1 541.5 865.4 541.5 867.5 536.2 870.5 530.5 872.9 527.6 881.5 517.3 886.4 508.1 898.6 517.3 900.0 518.8 908.9 530.5 912.7 536.2 913.6 537.2 915.7 536.2 921.8 530.5 927.2 525.9 935.5 517.3 940.8 510.6 942.4 506.8 945.2 494.4 946.2 479.2 948.8 459.7 950.3 447.3 954.0 432.1 954.4 429.2 959.2 412.6 968.0 393.7 979.6 385.0 981.6 383.1 995.2 375.8 1002.0 360.8 1008.0 337.9 1008.3 322.7 1008.8 319.5 1009.7 303.2 1008.8 293.0 1006.2 275.6 1002.2 256.1 995.6 228.5 995.2 226.9 981.6 205.1 980.1 204.3 968.0 196.9 954.4 192.1 940.8 193.8 927.2 183.8 926.2 181.4 918.1 146.7 920.3 119.1Z M1076.7 72.0 1088.3 72.0 1090.3 75.6 1103.9 93.5 1117.5 92.9 1131.1 92.9 1144.7 96.4 1158.2 100.5 1158.2 119.1 1158.2 121.9 1150.0 119.1 1144.7 117.5 1131.1 115.0 1117.5 118.1 1112.0 119.1 1103.9 120.5 1102.9 119.1 1090.3 100.9 1076.7 75.9 1074.0 72.0Z M166.2 218.5 179.8 222.2 185.3 228.5 193.4 237.2 206.2 256.1 206.9 257.1 217.2 275.6 220.5 282.1 231.5 303.2 234.1 310.5 239.0 322.7 246.2 337.9 247.7 344.3 251.4 360.8 254.4 385.0 254.6 412.6 252.7 432.1 249.7 447.3 247.7 458.8 247.5 459.7 246.9 479.2 247.0 494.4 247.5 506.8 247.7 508.4 249.3 517.3 251.1 530.5 252.1 536.2 252.4 541.5 249.7 541.5 249.1 536.2 247.7 530.9 247.5 530.5 244.9 517.3 244.1 506.8 241.7 494.4 238.9 479.2 235.7 459.7 239.1 447.3 243.0 432.1 244.6 412.6 244.2 385.0 240.2 360.8 234.1 340.8 233.2 337.9 227.1 322.7 220.5 304.2 220.1 303.2 206.9 277.4 206.1 275.6 193.4 257.6 189.3 256.1 179.8 249.3 174.2 256.1 166.2 268.8 163.8 275.6 158.7 303.2 156.4 322.7 154.2 337.9 152.6 349.2 151.2 360.8 149.0 385.0 151.3 412.6 152.6 416.6 157.4 432.1 166.2 443.8 167.8 447.3 173.7 459.7 175.6 479.2 174.3 494.4 172.9 506.8 168.0 517.3 166.2 521.5 159.9 530.5 152.6 535.9 152.2 536.2 149.6 541.5 140.3 541.5 141.0 536.2 142.6 530.5 139.0 524.9 138.2 517.3 139.0 515.7 152.6 516.1 162.8 506.8 166.2 504.7 167.7 494.4 169.9 479.2 167.6 459.7 166.2 456.6 157.2 447.3 152.6 440.6 143.2 432.1 141.9 412.6 141.1 385.0 143.2 360.8 144.9 337.9 146.1 322.7 147.9 303.2 149.7 275.6 152.3 256.1 152.6 255.2 162.3 228.5Z M410.8 225.9 414.7 228.5 424.4 233.0 438.0 241.9 451.6 254.0 454.1 256.1 465.1 263.6 478.7 271.6 486.6 275.6 492.3 278.7 505.9 279.8 516.5 275.6 519.5 274.1 522.7 275.6 533.1 280.7 546.7 298.5 549.3 303.2 560.3 316.7 568.4 322.7 573.9 327.7 587.5 337.7 587.8 337.9 601.0 349.1 609.3 360.8 614.6 369.0 628.2 383.7 641.8 384.1 654.2 360.8 655.4 358.7 669.0 338.9 670.0 337.9 682.6 325.0 696.2 326.2 709.8 325.3 715.4 322.7 723.4 317.7 736.9 311.4 744.4 322.7 750.4 337.9 750.5 338.5 754.2 360.8 752.5 385.0 750.5 391.1 745.8 412.6 737.9 432.1 736.9 436.3 729.5 447.3 724.8 459.7 723.4 470.4 722.5 479.2 723.4 482.2 726.3 494.4 730.2 506.8 736.0 517.3 736.9 518.4 740.6 530.5 741.0 536.2 741.6 541.5 738.0 541.5 737.8 536.2 737.7 530.5 736.9 528.1 728.0 517.3 723.4 508.4 721.0 506.8 712.3 494.4 709.8 479.5 709.7 479.2 708.0 459.7 709.8 454.6 711.6 447.3 720.8 432.1 723.4 429.7 735.8 412.6 736.9 408.0 742.3 385.0 738.4 360.8 736.9 357.0 723.4 347.5 709.8 347.8 696.2 345.0 682.6 343.8 669.0 355.1 665.2 360.8 656.8 385.0 655.4 392.1 648.5 412.6 647.6 432.1 651.8 447.3 654.2 459.7 641.8 478.8 641.4 479.2 628.2 485.9 614.6 483.2 614.1 479.2 611.7 459.7 612.0 447.3 614.6 434.4 616.1 432.1 617.9 412.6 614.6 404.8 610.8 385.0 601.0 369.2 595.9 360.8 587.5 350.7 573.9 341.9 568.5 337.9 560.3 330.3 554.1 322.7 546.7 313.6 535.2 303.2 533.1 300.5 519.5 294.7 505.9 295.0 492.3 290.0 478.7 282.5 467.8 275.6 465.1 274.0 451.6 265.3 438.2 256.1 438.0 255.9 424.4 252.7 410.8 253.8 408.6 256.1 397.2 268.1 383.8 275.6 383.6 275.7 383.5 275.6 370.0 267.4 356.4 264.7 346.1 275.6 342.8 280.7 334.5 303.2 329.2 319.8 328.2 322.7 322.2 337.9 315.7 360.8 315.7 361.2 313.9 385.0 315.7 392.4 329.2 409.7 330.8 412.6 342.8 420.5 349.4 432.1 354.7 447.3 356.4 450.4 364.5 459.7 370.0 472.9 374.8 479.2 379.7 494.4 383.6 502.5 384.7 506.8 386.8 517.3 388.9 530.5 389.4 536.2 390.1 541.5 385.4 541.5 385.7 536.2 385.3 530.5 383.6 521.7 381.0 517.3 375.3 506.8 370.0 495.5 369.5 494.4 363.0 479.2 356.4 463.1 355.5 459.7 348.9 447.3 342.8 434.6 336.1 432.1 329.2 428.6 323.1 432.1 315.7 434.7 307.9 432.1 302.1 423.3 299.0 412.6 296.4 385.0 298.9 360.8 302.1 350.7 305.8 337.9 313.1 322.7 315.7 317.4 321.4 303.2 329.2 281.7 331.6 275.6 338.6 256.1 342.8 248.2 356.4 240.2 370.0 244.4 383.6 256.0 397.2 240.7 408.5 228.5Z M1117.5 426.2 1122.1 432.1 1131.1 439.6 1132.5 447.3 1136.9 459.7 1135.2 479.2 1133.9 494.4 1131.1 506.4 1130.9 506.8 1126.8 517.3 1121.3 530.5 1118.7 536.2 1117.5 540.3 1116.6 536.2 1116.2 530.5 1115.0 517.3 1113.6 506.8 1113.1 494.4 1113.1 479.2 1113.2 459.7 1114.9 447.3 1116.7 432.1Z M1063.1 508.3 1072.6 517.3 1075.3 530.5 1076.2 536.2 1076.7 538.0 1090.3 540.9 1103.9 540.4 1116.5 541.5 1103.9 541.5 1090.3 541.5 1076.7 541.5 1063.1 541.5 1056.7 541.5 1055.9 536.2 1056.1 530.5 1056.9 517.3Z M424.4 534.2 427.7 536.2 429.6 541.5 424.4 541.5 415.2 541.5 418.5 536.2Z M315.7 539.5 325.4 541.5 315.7 541.5 306.9 541.5Z"/>
<path fill="#483123" stroke="#483123" d="M139.0 72.0 141.2 72.0 150.6 119.1 152.6 121.6 159.0 146.7 166.2 171.1 170.5 181.4 179.8 200.4 182.7 204.3 193.4 217.3 200.7 228.5 206.9 238.0 217.4 256.1 220.5 261.6 228.8 275.6 234.1 285.9 243.8 303.2 247.7 312.5 252.4 322.7 258.9 337.9 261.3 349.4 266.6 360.8 265.8 385.0 266.7 412.6 263.4 432.1 261.3 436.5 258.1 447.3 254.7 459.7 253.7 479.2 253.4 494.4 253.4 506.8 254.2 517.3 254.6 530.5 255.1 536.2 255.2 541.5 252.4 541.5 252.1 536.2 251.1 530.5 249.3 517.3 247.7 508.4 247.5 506.8 247.0 494.4 246.9 479.2 247.5 459.7 247.7 458.8 249.7 447.3 252.7 432.1 254.6 412.6 254.4 385.0 251.4 360.8 247.7 344.3 246.2 337.9 239.0 322.7 234.1 310.5 231.5 303.2 220.5 282.1 217.2 275.6 206.9 257.1 206.2 256.1 193.4 237.2 185.3 228.5 179.8 222.2 166.2 218.5 162.3 228.5 152.6 255.2 152.3 256.1 149.7 275.6 147.9 303.2 146.1 322.7 144.9 337.9 143.2 360.8 141.1 385.0 141.9 412.6 143.2 432.1 152.6 440.6 157.2 447.3 166.2 456.6 167.6 459.7 169.9 479.2 167.7 494.4 166.2 504.7 162.8 506.8 152.6 516.1 139.0 515.7 138.2 517.3 139.0 524.9 142.6 530.5 141.0 536.2 140.3 541.5 139.0 541.5 134.7 541.5 135.0 536.2 135.3 530.5 135.4 517.3 139.0 509.5 143.6 506.8 150.6 494.4 152.6 487.6 159.0 479.2 153.5 459.7 152.6 458.7 145.8 447.3 139.0 440.5 135.0 432.1 125.4 413.6 125.4 412.6 125.4 388.2 125.7 385.0 132.7 360.8 134.5 337.9 133.6 322.7 128.4 303.2 126.0 275.6 126.6 256.1 125.4 234.2 125.4 228.5 125.4 204.3 125.4 181.4 125.4 154.9 128.7 146.7 130.1 119.1 125.4 91.0 125.4 72.0Z M736.9 72.0 738.1 72.0 739.3 119.1 742.6 146.7 750.5 177.5 753.6 181.4 764.1 199.3 777.7 196.7 791.3 197.7 804.9 198.9 818.5 196.9 832.1 196.6 841.7 204.3 845.7 208.1 859.3 217.4 872.6 204.3 872.9 203.5 881.0 181.4 884.0 146.7 881.6 119.1 872.9 76.3 872.3 72.0 872.9 72.0 882.5 72.0 886.4 90.9 900.0 115.7 913.6 86.8 918.0 72.0 927.2 72.0 933.5 72.0 927.2 95.9 920.3 119.1 918.1 146.7 926.2 181.4 927.2 183.8 940.8 193.8 954.4 192.1 968.0 196.9 980.1 204.3 981.6 205.1 995.2 226.9 995.6 228.5 1002.2 256.1 1006.2 275.6 1008.8 293.0 1009.7 303.2 1008.8 319.5 1008.3 322.7 1008.0 337.9 1002.0 360.8 995.2 375.8 981.6 383.1 979.6 385.0 968.0 393.7 959.2 412.6 954.4 429.2 954.0 432.1 950.3 447.3 948.8 459.7 946.2 479.2 945.2 494.4 942.4 506.8 940.8 510.6 935.5 517.3 927.2 525.9 921.8 530.5 915.7 536.2 913.6 537.2 912.7 536.2 908.9 530.5 900.0 518.8 898.6 517.3 886.4 508.1 881.5 517.3 872.9 527.6 870.5 530.5 867.5 536.2 865.4 541.5 861.6 541.5 864.1 536.2 867.5 530.5 872.8 523.9 878.5 517.3 884.1 506.8 886.4 500.4 896.3 506.8 900.0 509.5 906.4 517.3 913.6 527.6 926.5 517.3 927.2 516.9 936.0 506.8 940.8 498.7 941.9 494.4 942.7 479.2 945.1 459.7 945.4 447.3 947.0 432.1 949.5 412.6 954.4 398.0 960.5 385.0 968.0 367.7 973.6 360.8 981.6 345.1 985.5 337.9 990.6 322.7 994.3 303.2 991.7 275.6 983.5 256.1 981.6 252.9 968.0 242.1 954.4 238.3 940.8 238.9 927.2 236.1 913.6 229.7 905.0 228.5 900.0 227.1 898.0 228.5 886.4 232.4 872.8 238.0 859.3 241.8 845.7 233.1 838.6 228.5 832.1 223.3 818.5 223.3 804.9 226.8 798.2 228.5 791.3 231.1 777.7 236.9 764.1 240.4 758.4 228.5 750.5 212.4 749.0 204.3 742.6 181.4 737.0 152.2 736.2 146.7 733.7 119.1 732.2 72.0Z M1090.3 72.0 1103.9 72.0 1117.5 72.0 1131.1 72.0 1134.6 72.0 1144.7 75.3 1158.2 79.3 1158.2 100.5 1144.7 96.4 1131.1 92.9 1117.5 92.9 1103.9 93.5 1090.3 75.6 1088.3 72.0Z M410.8 200.1 414.6 204.3 424.4 214.9 438.0 228.0 438.5 228.5 451.6 241.7 465.1 252.6 470.4 256.1 478.7 260.7 492.3 266.3 505.9 262.3 518.3 256.1 519.5 255.4 520.8 256.1 533.1 261.9 543.4 275.6 546.7 280.0 559.8 303.2 560.3 303.7 573.9 314.3 587.5 320.5 591.1 322.7 601.0 330.0 608.7 337.9 614.6 346.3 628.2 360.7 628.3 360.8 641.8 362.5 642.8 360.8 655.4 338.6 655.9 337.9 666.0 322.7 669.0 316.2 682.6 305.0 696.2 304.1 700.9 303.2 709.8 301.4 723.4 288.5 736.9 275.6 738.2 275.6 750.5 274.7 751.0 275.6 761.8 303.2 764.1 311.9 766.5 322.7 770.5 337.9 773.5 360.8 769.3 385.0 764.1 389.9 755.5 412.6 750.5 422.6 746.4 432.1 740.2 447.3 738.1 459.7 737.0 469.4 733.8 479.2 736.8 494.4 736.9 496.0 737.5 506.8 740.4 517.3 743.6 530.5 744.3 536.2 745.1 541.5 741.6 541.5 741.0 536.2 740.6 530.5 736.9 518.4 736.0 517.3 730.2 506.8 726.3 494.4 723.4 482.2 722.5 479.2 723.4 470.4 724.8 459.7 729.5 447.3 736.9 436.3 737.9 432.1 745.8 412.6 750.5 391.1 752.5 385.0 754.2 360.8 750.5 338.5 750.4 337.9 744.4 322.7 736.9 311.4 723.4 317.7 715.4 322.7 709.8 325.3 696.2 326.2 682.6 325.0 670.0 337.9 669.0 338.9 655.4 358.7 654.2 360.8 641.8 384.1 628.2 383.7 614.6 369.0 609.3 360.8 601.0 349.1 587.8 337.9 587.5 337.7 573.9 327.7 568.4 322.7 560.3 316.7 549.3 303.2 546.7 298.5 533.1 280.7 522.7 275.6 519.5 274.1 516.5 275.6 505.9 279.8 492.3 278.7 486.6 275.6 478.7 271.6 465.1 263.6 454.1 256.1 451.6 254.0 438.0 241.9 424.4 233.0 414.7 228.5 410.8 225.9 408.5 228.5 397.2 240.7 383.6 256.0 370.0 244.4 356.4 240.2 342.8 248.2 338.6 256.1 331.6 275.6 329.2 281.7 321.4 303.2 315.7 317.4 313.1 322.7 305.8 337.9 302.1 350.7 298.9 360.8 296.4 385.0 299.0 412.6 302.1 423.3 307.9 432.1 315.7 434.7 323.1 432.1 329.2 428.6 336.1 432.1 342.8 434.6 348.9 447.3 355.5 459.7 356.4 463.1 363.0 479.2 369.5 494.4 370.0 495.5 375.3 506.8 381.0 517.3 383.6 521.7 385.3 530.5 385.7 536.2 385.4 541.5 383.6 541.5 376.1 541.5 374.6 536.2 370.0 531.0 361.3 536.2 356.4 537.3 345.0 541.5 342.8 541.5 329.2 541.5 325.4 541.5 315.7 539.5 306.9 541.5 302.1 541.5 299.3 541.5 299.9 536.2 301.3 530.5 302.1 527.4 315.7 526.4 327.1 530.5 329.2 531.6 330.4 530.5 342.8 519.8 345.1 517.3 356.4 509.5 359.0 506.8 358.3 494.4 356.4 489.2 353.6 479.2 349.2 459.7 343.0 447.3 342.8 446.9 329.2 441.2 315.7 445.1 302.1 441.0 292.6 432.1 288.5 420.2 284.3 412.6 283.2 385.0 280.9 360.8 288.5 344.4 290.7 337.9 298.1 322.7 302.1 314.3 307.4 303.2 315.7 283.7 318.6 275.6 325.7 256.1 329.2 247.6 339.6 228.5 342.8 221.9 356.4 217.5 370.0 222.0 383.6 228.4 397.2 214.9 406.0 204.3Z M369.0 517.3 370.0 524.4 370.3 517.3 370.0 516.7Z M1144.7 332.0 1158.2 329.8 1158.2 337.9 1158.2 360.8 1158.2 385.0 1158.2 412.6 1158.2 432.1 1158.2 447.3 1158.2 459.7 1158.2 479.2 1158.2 494.4 1158.2 506.8 1158.2 517.3 1158.2 529.2 1157.6 530.5 1155.1 536.2 1154.2 541.5 1144.7 541.5 1131.1 541.5 1117.5 541.5 1116.5 541.5 1103.9 540.4 1090.3 540.9 1076.7 538.0 1076.2 536.2 1075.3 530.5 1072.6 517.3 1063.1 508.3 1056.9 517.3 1056.1 530.5 1055.9 536.2 1056.7 541.5 1049.5 541.5 1035.9 541.5 1033.6 541.5 1033.0 536.2 1032.7 530.5 1032.0 517.3 1031.6 506.8 1030.1 494.4 1026.8 479.2 1022.3 463.3 1019.7 459.7 1014.0 447.3 1013.9 432.1 1022.3 417.2 1025.4 412.6 1035.9 399.8 1049.5 404.1 1058.3 412.6 1063.1 419.5 1076.7 431.9 1090.3 419.4 1096.1 412.6 1103.9 403.9 1117.5 405.5 1121.6 385.0 1130.0 360.8 1131.1 357.8 1139.9 337.9Z M1028.8 432.1 1025.9 447.3 1028.6 459.7 1033.0 479.2 1035.8 494.4 1035.9 496.2 1049.5 504.7 1063.1 496.6 1076.7 499.0 1086.0 506.8 1084.4 517.3 1090.3 527.7 1100.5 517.3 1095.2 506.8 1097.7 494.4 1098.1 479.2 1097.3 459.7 1090.3 450.9 1076.7 449.8 1074.3 447.3 1063.1 439.0 1058.5 432.1 1049.5 419.2 1035.9 421.7Z M1116.7 432.1 1114.9 447.3 1113.2 459.7 1113.1 479.2 1113.1 494.4 1113.6 506.8 1115.0 517.3 1116.2 530.5 1116.6 536.2 1117.5 540.3 1118.7 536.2 1121.3 530.5 1126.8 517.3 1130.9 506.8 1131.1 506.4 1133.9 494.4 1135.2 479.2 1136.9 459.7 1132.5 447.3 1131.1 439.6 1122.1 432.1 1117.5 426.2Z"/>
<path fill="#3a2a21" stroke="#3a2a21" d="M152.6 96.3 157.0 119.1 165.8 146.7 166.2 148.1 179.8 180.6 180.3 181.4 193.4 199.5 196.5 204.3 206.9 220.7 211.2 228.5 220.5 245.1 228.2 256.1 234.1 265.9 240.9 275.6 247.7 287.9 258.0 303.2 261.3 310.7 272.0 322.7 274.9 325.8 277.8 322.7 288.5 311.6 292.4 303.2 302.1 282.5 305.0 275.6 313.1 256.1 315.7 249.2 324.1 228.5 329.2 216.7 335.4 204.3 342.8 192.2 356.4 196.5 370.0 204.0 370.8 204.3 383.6 208.5 387.3 204.3 397.2 191.3 410.8 182.1 424.4 199.2 427.9 204.3 438.0 216.9 450.6 228.5 451.6 229.5 465.1 240.0 478.7 250.0 492.3 252.7 505.9 243.4 519.5 235.1 533.1 243.1 540.2 256.1 546.7 264.9 552.8 275.6 560.3 289.2 573.9 302.0 577.0 303.2 587.5 307.3 601.0 311.4 612.6 322.7 614.6 324.8 625.6 337.9 628.2 340.8 641.8 342.8 644.6 337.9 654.3 322.7 655.4 320.9 664.2 303.2 669.0 293.8 682.6 283.4 696.2 280.6 709.8 277.1 711.1 275.6 723.4 258.1 724.8 256.1 735.4 228.5 735.8 204.3 733.1 181.4 730.0 146.7 727.8 119.1 726.0 72.0 732.2 72.0 733.7 119.1 736.2 146.7 736.9 152.2 742.6 181.4 749.0 204.3 750.5 212.4 758.4 228.5 764.1 240.4 777.7 236.9 791.3 231.1 798.2 228.5 804.9 226.8 818.5 223.3 832.1 223.3 838.6 228.5 845.7 233.1 859.3 241.8 872.8 238.0 886.4 232.4 898.0 228.5 900.0 227.1 905.0 228.5 913.6 229.7 927.2 236.1 940.8 238.9 954.4 238.3 968.0 242.1 981.6 252.9 983.5 256.1 991.7 275.6 994.3 303.2 990.6 322.7 985.5 337.9 981.6 345.1 973.6 360.8 968.0 367.7 960.5 385.0 954.4 398.0 949.5 412.6 947.0 432.1 945.4 447.3 945.1 459.7 942.7 479.2 941.9 494.4 940.8 498.7 936.0 506.8 927.2 516.9 926.5 517.3 913.6 527.6 906.4 517.3 900.0 509.5 896.3 506.8 886.4 500.4 884.1 506.8 878.5 517.3 872.9 523.9 867.5 530.5 864.1 536.2 861.6 541.5 859.3 541.5 850.2 541.5 859.3 538.9 860.6 536.2 864.5 530.5 872.9 520.3 875.4 517.3 880.9 506.8 885.5 494.4 886.4 482.8 898.7 494.4 900.0 494.9 907.9 506.8 913.6 515.7 927.2 508.3 928.6 506.8 935.6 494.4 938.1 479.2 940.8 465.3 941.5 459.7 940.8 449.5 940.5 447.3 939.3 432.1 940.8 423.5 941.9 412.6 950.3 385.0 954.4 371.7 958.9 360.8 964.9 337.9 967.7 322.7 968.0 321.2 972.1 303.2 968.0 295.7 954.4 279.5 940.8 287.2 927.2 283.2 919.8 275.6 913.6 271.2 900.0 269.0 886.4 271.1 872.9 271.2 859.3 271.0 845.7 260.2 832.7 256.1 832.1 255.9 831.7 256.1 818.5 267.6 807.7 275.6 804.9 278.4 791.3 287.9 789.0 303.2 789.3 322.7 791.3 336.4 791.7 337.9 795.8 360.8 794.4 385.0 791.3 389.5 777.7 400.8 766.5 412.6 764.1 413.5 753.2 432.1 750.5 436.6 744.9 447.3 742.2 459.7 739.9 479.2 741.1 494.4 742.4 506.8 744.4 517.3 746.6 530.5 747.5 536.2 748.7 541.5 745.1 541.5 744.3 536.2 743.6 530.5 740.4 517.3 737.5 506.8 736.9 496.0 736.8 494.4 733.8 479.2 736.9 469.4 738.1 459.7 740.2 447.3 746.4 432.1 750.5 422.6 755.5 412.6 764.1 389.9 769.3 385.0 773.5 360.8 770.5 337.9 766.5 322.7 764.1 311.9 761.8 303.2 751.0 275.6 750.5 274.7 738.2 275.6 736.9 275.6 723.4 288.5 709.8 301.4 700.9 303.2 696.2 304.1 682.6 305.0 669.0 316.2 666.0 322.7 655.9 337.9 655.4 338.6 642.8 360.8 641.8 362.5 628.3 360.8 628.2 360.7 614.6 346.3 608.7 337.9 601.0 330.0 591.1 322.7 587.5 320.5 573.9 314.3 560.3 303.7 559.8 303.2 546.7 280.0 543.4 275.6 533.1 261.9 520.8 256.1 519.5 255.4 518.3 256.1 505.9 262.3 492.3 266.3 478.7 260.7 470.4 256.1 465.1 252.6 451.6 241.7 438.5 228.5 438.0 228.0 424.4 214.9 414.6 204.3 410.8 200.1 406.0 204.3 397.2 214.9 383.6 228.4 370.0 222.0 356.4 217.5 342.8 221.9 339.6 228.5 329.2 247.6 325.7 256.1 318.6 275.6 315.7 283.7 307.4 303.2 302.1 314.3 298.1 322.7 290.7 337.9 288.5 344.4 280.9 360.8 283.2 385.0 284.3 412.6 288.5 420.2 292.6 432.1 302.1 441.0 315.7 445.1 329.2 441.2 342.8 446.9 343.0 447.3 349.2 459.7 353.6 479.2 356.4 489.2 358.3 494.4 359.0 506.8 356.4 509.5 345.1 517.3 342.8 519.8 330.4 530.5 329.2 531.6 327.1 530.5 315.7 526.4 302.1 527.4 301.3 530.5 299.9 536.2 299.3 541.5 295.7 541.5 295.9 536.2 296.5 530.5 297.7 517.3 298.9 506.8 299.6 494.4 300.9 479.2 297.9 459.7 290.7 447.3 288.5 445.5 274.9 437.1 270.0 447.3 262.8 459.7 261.3 467.3 260.4 479.2 260.0 494.4 259.5 506.8 259.1 517.3 258.1 530.5 258.1 536.2 258.0 541.5 255.2 541.5 255.1 536.2 254.6 530.5 254.2 517.3 253.4 506.8 253.4 494.4 253.7 479.2 254.7 459.7 258.1 447.3 261.3 436.5 263.4 432.1 266.7 412.6 265.8 385.0 266.6 360.8 261.3 349.4 258.9 337.9 252.4 322.7 247.7 312.5 243.8 303.2 234.1 285.9 228.8 275.6 220.5 261.6 217.4 256.1 206.9 238.0 200.7 228.5 193.4 217.3 182.7 204.3 179.8 200.4 170.5 181.4 166.2 171.1 159.0 146.7 152.6 121.6 150.6 119.1 141.2 72.0 147.0 72.0Z M319.8 459.7 315.7 467.7 305.4 479.2 315.7 490.7 317.9 494.4 329.2 506.5 342.8 497.6 344.7 494.4 345.2 479.2 342.9 459.7 342.8 459.6 329.2 454.1Z M886.4 72.0 899.9 72.0 900.0 72.4 900.2 72.0 913.6 72.0 918.0 72.0 913.6 86.8 900.0 115.7 886.4 90.9 882.5 72.0Z M1144.7 72.0 1158.2 72.0 1158.2 79.3 1144.6 75.3 1134.6 72.0Z M126.6 256.1 126.0 275.6 128.4 303.2 133.6 322.7 134.5 337.9 132.7 360.8 125.7 385.0 125.4 388.2 125.4 385.0 125.4 360.8 125.4 337.9 125.4 322.7 125.4 303.2 125.4 275.6 125.4 256.1 125.4 234.2Z M135.0 432.1 139.0 440.5 145.8 447.3 152.6 458.7 153.5 459.7 159.0 479.2 152.6 487.6 150.6 494.4 143.6 506.8 139.0 509.5 135.4 517.3 135.3 530.5 135.0 536.2 134.7 541.5 129.8 541.5 130.2 536.2 130.7 530.5 132.5 517.3 137.0 506.8 139.0 499.9 142.6 494.4 146.1 479.2 143.0 459.7 139.0 453.1 137.4 447.3 130.0 432.1 125.4 423.3 125.4 413.6Z M1035.9 421.7 1049.5 419.2 1058.5 432.1 1063.1 439.0 1074.3 447.3 1076.7 449.8 1090.3 450.9 1097.3 459.7 1098.1 479.2 1097.7 494.4 1095.2 506.8 1100.5 517.3 1090.3 527.7 1084.4 517.3 1086.0 506.8 1076.7 499.0 1063.1 496.6 1049.5 504.7 1035.9 496.2 1035.8 494.4 1033.0 479.2 1028.6 459.7 1025.9 447.3 1028.8 432.1Z M1035.0 447.3 1035.9 458.2 1036.1 459.7 1047.8 479.2 1049.5 481.3 1052.1 479.2 1059.8 459.7 1058.1 447.3 1049.5 432.7 1035.9 443.9Z M370.0 516.7 370.3 517.3 370.0 524.4 369.0 517.3Z M1158.2 529.2 1158.2 530.5 1158.2 536.2 1158.2 541.5 1154.2 541.5 1155.1 536.2 1157.6 530.5Z M370.0 531.0 374.6 536.2 376.1 541.5 370.0 541.5 356.4 541.5 345.0 541.5 356.4 537.3 361.3 536.2Z M818.5 533.3 832.1 532.5 835.0 536.2 842.2 541.5 832.1 541.5 818.5 541.5 811.7 541.5 814.3 536.2Z"/>
<path fill="#2e2620" stroke="#2e2620" d="M152.6 72.0 152.7 72.0 161.9 119.1 166.2 132.3 172.7 146.7 179.8 163.6 191.2 181.4 193.4 184.3 206.3 204.3 206.9 205.3 219.7 228.5 220.5 229.9 234.1 248.4 239.8 256.1 247.7 267.5 255.5 275.6 261.3 283.9 274.9 293.0 288.5 280.1 290.6 275.6 300.0 256.1 302.1 251.1 310.9 228.5 315.7 216.3 321.0 204.3 328.9 181.4 329.2 180.4 342.8 168.8 356.4 176.9 367.4 181.4 370.0 182.7 383.6 184.6 386.2 181.4 397.2 169.8 410.8 165.4 420.6 181.4 424.4 186.2 436.8 204.3 438.0 205.7 451.6 217.0 465.1 227.6 466.2 228.5 478.7 239.3 492.3 236.8 501.8 228.5 505.9 224.6 519.5 214.5 533.1 223.9 535.1 228.5 546.7 249.9 549.9 256.1 560.3 274.6 561.0 275.6 573.9 289.6 587.5 292.2 601.0 289.2 614.6 301.5 615.7 303.2 628.2 318.7 641.8 321.7 653.2 303.2 655.4 299.4 667.9 275.6 669.0 273.9 682.6 262.4 696.2 256.3 696.6 256.1 709.8 245.6 717.6 228.5 722.7 204.3 723.3 181.4 723.4 177.3 723.7 146.7 723.4 141.3 721.1 119.1 719.1 72.0 723.4 72.0 726.0 72.0 727.8 119.1 730.0 146.7 733.1 181.4 735.8 204.3 735.4 228.5 724.8 256.1 723.4 258.1 711.1 275.6 709.8 277.1 696.2 280.6 682.6 283.4 669.0 293.8 664.2 303.2 655.4 320.9 654.3 322.7 644.6 337.9 641.8 342.8 628.2 340.8 625.6 337.9 614.6 324.8 612.6 322.7 601.0 311.4 587.5 307.3 577.0 303.2 573.9 302.0 560.3 289.2 552.8 275.6 546.7 264.9 540.2 256.1 533.1 243.1 519.5 235.1 505.9 243.4 492.3 252.7 478.7 250.0 465.1 240.0 451.6 229.5 450.6 228.5 438.0 216.9 427.9 204.3 424.4 199.2 410.8 182.1 397.2 191.3 387.3 204.3 383.6 208.5 370.8 204.3 370.0 204.0 356.4 196.5 342.8 192.2 335.4 204.3 329.2 216.7 324.1 228.5 315.7 249.2 313.1 256.1 305.0 275.6 302.1 282.5 292.4 303.2 288.5 311.6 277.8 322.7 274.9 325.8 272.0 322.7 261.3 310.7 258.0 303.2 247.7 287.9 240.9 275.6 234.1 265.9 228.2 256.1 220.5 245.1 211.2 228.5 206.9 220.7 196.5 204.3 193.4 199.5 180.3 181.4 179.8 180.6 166.2 148.1 165.8 146.7 157.0 119.1 152.6 96.3 147.0 72.0Z M900.0 72.0 900.2 72.0 900.0 72.4 899.9 72.0Z M832.1 255.9 832.7 256.1 845.7 260.2 859.3 271.0 872.9 271.2 886.4 271.1 900.0 269.0 913.6 271.2 919.8 275.6 927.2 283.2 940.8 287.2 954.4 279.5 968.0 295.7 972.1 303.2 968.0 321.2 967.7 322.7 964.9 337.9 958.9 360.8 954.4 371.7 950.3 385.0 941.9 412.6 940.8 423.5 939.3 432.1 940.5 447.3 940.8 449.5 941.5 459.7 940.8 465.3 938.1 479.2 935.6 494.4 928.6 506.8 927.2 508.3 913.6 515.7 907.9 506.8 900.0 494.9 898.7 494.4 886.4 482.8 885.5 494.4 880.9 506.8 875.4 517.3 872.9 520.3 864.5 530.5 860.6 536.2 859.3 538.9 850.2 541.5 845.7 541.5 842.2 541.5 835.0 536.2 832.1 532.5 818.5 533.3 814.3 536.2 811.7 541.5 804.9 541.5 794.3 541.5 796.7 536.2 804.9 535.2 812.6 530.5 818.5 528.1 832.1 526.6 836.2 530.5 841.5 536.2 845.7 538.5 852.6 536.2 859.3 533.7 861.6 530.5 872.2 517.3 872.9 516.3 877.8 506.8 882.1 494.4 883.8 479.2 884.6 459.7 883.7 447.3 884.5 432.1 886.4 416.3 900.0 430.5 900.3 432.1 900.6 447.3 900.0 449.0 895.0 459.7 900.0 467.7 903.9 479.2 907.7 494.4 913.6 501.9 927.2 495.4 927.8 494.4 932.4 479.2 935.0 459.7 932.5 447.3 927.2 434.6 925.3 432.1 927.2 417.6 927.9 412.6 939.9 385.0 940.8 380.2 942.7 360.8 940.8 346.7 936.6 337.9 927.2 330.3 920.4 322.7 913.6 315.7 900.0 304.0 886.4 307.1 872.8 316.5 866.7 322.7 860.7 337.9 859.3 341.5 852.6 360.8 845.7 375.5 841.8 385.0 832.1 405.4 818.5 395.3 804.9 396.6 795.5 412.6 791.3 416.3 777.7 418.8 764.1 422.3 758.3 432.1 750.5 445.5 749.6 447.3 746.3 459.7 744.0 479.2 745.4 494.4 747.2 506.8 748.3 517.3 749.5 530.5 750.5 535.4 751.3 536.2 755.1 541.5 750.5 541.5 748.7 541.5 747.5 536.2 746.6 530.5 744.4 517.3 742.4 506.8 741.1 494.4 739.9 479.2 742.2 459.7 744.9 447.3 750.5 436.6 753.2 432.1 764.1 413.5 766.5 412.6 777.7 400.8 791.3 389.5 794.4 385.0 795.8 360.8 791.7 337.9 791.3 336.4 789.3 322.7 789.0 303.2 791.3 287.9 804.9 278.4 807.7 275.6 818.5 267.6 831.7 256.1Z M130.0 432.1 137.4 447.3 139.0 453.1 143.0 459.7 146.1 479.2 142.6 494.4 139.0 499.9 137.0 506.8 132.5 517.3 130.7 530.5 130.2 536.2 129.8 541.5 125.4 541.5 125.4 536.8 125.5 536.2 126.1 530.5 129.7 517.3 133.4 506.8 136.0 494.4 137.7 479.2 135.6 459.7 133.1 447.3 125.4 432.8 125.4 432.1 125.4 423.3Z M274.9 437.1 288.5 445.5 290.7 447.3 297.9 459.7 300.9 479.2 299.6 494.4 298.9 506.8 297.7 517.3 296.5 530.5 295.9 536.2 295.7 541.5 292.1 541.5 291.8 536.2 291.7 530.5 288.5 517.5 288.4 517.3 286.3 506.8 285.8 494.4 286.8 479.2 274.9 464.4 267.9 479.2 266.4 494.4 264.9 506.8 263.7 517.3 261.9 530.5 261.3 534.1 261.1 536.2 260.8 541.5 258.0 541.5 258.1 536.2 258.1 530.5 259.1 517.3 259.5 506.8 260.0 494.4 260.4 479.2 261.3 467.3 262.8 459.7 270.0 447.3Z M1035.9 443.9 1049.5 432.7 1058.1 447.3 1059.8 459.7 1052.1 479.2 1049.5 481.3 1047.8 479.2 1036.1 459.7 1035.9 458.2 1035.0 447.3Z M329.2 454.1 342.8 459.6 342.9 459.7 345.2 479.2 344.7 494.4 342.8 497.6 329.2 506.5 317.9 494.4 315.7 490.7 305.4 479.2 315.7 467.7 319.8 459.7Z M328.2 479.2 329.2 480.7 330.4 479.2 329.2 477.4Z"/>
<path fill="#252322" stroke="#252322" d="M166.2 116.6 167.0 119.1 179.7 146.7 179.8 146.7 193.4 168.5 201.2 181.4 206.9 190.3 215.8 204.3 220.5 212.8 232.1 228.5 234.1 231.2 247.7 248.8 258.0 256.1 261.3 259.0 274.9 266.8 286.7 256.1 288.5 254.5 299.6 228.5 302.1 223.6 310.4 204.3 315.7 189.7 319.0 181.4 329.2 155.3 342.8 147.4 356.4 158.6 370.0 163.1 383.6 164.2 397.2 149.0 410.8 148.8 424.4 171.4 431.0 181.4 438.0 191.4 451.4 204.3 451.6 204.4 465.1 217.3 478.5 228.5 478.7 228.7 479.3 228.5 492.3 222.0 505.9 207.1 509.3 204.3 519.5 193.6 533.1 203.0 533.7 204.3 543.9 228.5 546.7 233.6 558.3 256.1 560.3 259.6 572.4 275.6 573.9 277.3 587.5 276.3 588.8 275.6 601.0 265.9 614.6 256.2 622.5 275.6 628.2 283.9 641.8 292.0 651.8 275.6 655.4 270.1 664.5 256.1 669.0 248.9 682.6 239.3 696.2 232.0 699.5 228.5 709.8 206.1 710.2 204.3 711.8 181.4 711.6 146.7 711.6 119.1 711.6 72.0 719.1 72.0 721.1 119.1 723.4 141.3 723.7 146.7 723.4 177.3 723.3 181.4 722.7 204.3 717.6 228.5 709.8 245.6 696.6 256.1 696.2 256.3 682.6 262.4 669.0 273.9 667.9 275.6 655.4 299.4 653.2 303.2 641.8 321.7 628.2 318.7 615.7 303.2 614.6 301.5 601.0 289.2 587.5 292.2 573.9 289.6 561.0 275.6 560.3 274.6 549.9 256.1 546.7 249.9 535.1 228.5 533.1 223.9 519.5 214.5 505.9 224.6 501.8 228.5 492.3 236.8 478.7 239.3 466.2 228.5 465.1 227.6 451.6 217.0 438.0 205.7 436.8 204.3 424.4 186.2 420.6 181.4 410.8 165.4 397.2 169.8 386.2 181.4 383.6 184.6 370.0 182.7 367.4 181.4 356.4 176.9 342.8 168.8 329.2 180.4 328.9 181.4 321.0 204.3 315.7 216.3 310.9 228.5 302.1 251.1 300.0 256.1 290.6 275.6 288.5 280.1 274.9 293.0 261.3 283.9 255.5 275.6 247.7 267.5 239.8 256.1 234.1 248.4 220.5 229.9 219.7 228.5 206.9 205.3 206.3 204.3 193.3 184.3 191.2 181.4 179.8 163.6 172.7 146.7 166.2 132.3 161.9 119.1 152.7 72.0 156.7 72.0Z M872.9 316.5 886.4 307.1 900.0 304.0 913.6 315.7 920.4 322.7 927.2 330.3 936.6 337.9 940.8 346.7 942.7 360.8 940.8 380.2 939.9 385.0 927.9 412.6 927.2 417.6 925.3 432.1 927.2 434.6 932.5 447.3 935.0 459.7 932.4 479.2 927.8 494.4 927.2 495.4 913.6 501.9 907.7 494.4 903.9 479.2 900.0 467.7 895.0 459.7 900.0 449.0 900.6 447.3 900.3 432.1 900.0 430.5 886.4 416.3 884.5 432.1 883.7 447.3 884.6 459.7 883.8 479.2 882.1 494.4 877.8 506.8 872.9 516.3 872.2 517.3 861.6 530.5 859.3 533.7 852.6 536.2 845.7 538.5 841.5 536.2 836.2 530.5 832.1 526.6 818.5 528.1 812.6 530.5 804.9 535.2 796.7 536.2 794.3 541.5 791.3 541.5 777.7 541.5 764.1 541.5 755.1 541.5 751.3 536.2 750.5 535.4 749.5 530.5 748.3 517.3 747.2 506.8 745.4 494.4 744.0 479.2 746.3 459.7 749.6 447.3 750.5 445.5 758.3 432.1 764.1 422.3 777.7 418.8 791.3 416.3 795.5 412.6 804.9 396.6 818.5 395.3 832.1 405.4 841.8 385.0 845.7 375.5 852.6 360.8 859.3 341.5 860.7 337.9 866.7 322.7Z M843.8 412.6 832.1 426.5 818.5 419.2 804.9 414.7 791.3 427.0 777.7 431.5 764.1 431.0 763.5 432.1 756.0 447.3 750.5 459.0 750.4 459.7 748.1 479.2 749.7 494.4 750.5 499.3 752.1 506.8 754.8 517.3 762.4 530.5 764.1 536.1 777.7 531.0 778.1 530.5 791.3 525.3 804.9 529.4 818.5 524.5 832.1 521.5 841.7 530.5 845.7 534.3 856.1 530.5 859.3 529.3 868.5 517.3 872.9 510.2 874.6 506.8 878.7 494.4 880.9 479.2 881.3 459.7 880.5 447.3 879.8 432.1 875.7 412.6 872.9 398.6 859.3 392.1 845.7 408.8Z M911.7 447.3 908.5 459.7 912.1 479.2 913.6 485.7 922.1 479.2 927.2 467.8 927.8 459.7 927.2 457.3 918.4 447.3 913.6 439.9Z M133.1 447.3 135.6 459.7 137.7 479.2 136.0 494.4 133.4 506.8 129.7 517.3 126.1 530.5 125.5 536.2 125.4 536.8 125.4 536.2 125.4 530.5 125.4 522.2 126.8 517.3 129.8 506.8 130.7 494.4 131.9 479.2 130.0 459.7 128.7 447.3 125.4 441.0 125.4 432.8Z M274.9 464.4 286.8 479.2 285.8 494.4 286.3 506.8 288.4 517.3 288.5 517.5 291.7 530.5 291.8 536.2 292.1 541.5 288.5 541.5 288.5 541.0 287.5 536.2 286.0 530.5 283.3 517.3 280.3 506.8 277.6 494.4 274.9 481.9 272.8 494.4 270.2 506.8 267.9 517.3 267.2 530.5 265.4 536.2 265.2 541.5 261.3 541.5 260.8 541.5 261.1 536.2 261.3 534.1 261.9 530.5 263.7 517.3 264.9 506.8 266.4 494.4 267.9 479.2Z M329.2 477.4 330.4 479.2 329.2 480.7 328.2 479.2Z"/>
<path fill="#232628" stroke="#232628" d="M166.2 97.5 173.1 119.1 179.8 133.4 189.7 146.7 193.4 152.6 206.9 173.2 214.7 181.4 220.5 190.0 226.8 204.3 234.1 214.2 247.2 228.5 247.7 229.2 261.3 239.3 274.9 243.5 288.5 229.8 289.0 228.5 301.4 204.3 302.1 202.7 310.0 181.4 315.7 165.9 323.2 146.7 329.2 130.6 342.8 127.2 356.4 140.5 370.0 144.0 383.6 144.6 397.2 130.7 410.8 132.7 419.0 146.7 424.4 155.7 438.0 176.7 441.1 181.4 451.6 193.4 462.3 204.3 465.1 207.0 478.7 215.8 492.3 208.4 495.9 204.3 505.9 188.2 512.1 181.4 519.5 170.6 530.7 181.4 533.1 183.2 542.4 204.3 546.7 214.3 552.1 228.5 560.3 244.4 569.5 256.1 573.9 261.8 587.5 262.1 593.2 256.1 601.0 237.7 606.1 228.5 607.1 204.3 607.7 181.4 607.0 146.7 607.1 119.1 608.2 72.0 614.6 72.0 628.2 72.0 637.1 72.0 641.8 91.0 645.9 119.1 651.7 146.7 655.1 181.4 655.4 183.9 658.6 204.3 669.0 214.8 682.6 213.9 692.5 204.3 696.2 193.1 698.2 181.4 698.3 146.7 699.1 119.1 702.8 72.0 709.8 72.0 711.6 72.0 711.6 119.1 711.6 146.7 711.8 181.4 710.2 204.3 709.8 206.1 699.5 228.5 696.2 232.0 682.6 239.3 669.0 248.9 664.5 256.1 655.4 270.1 651.8 275.6 641.8 292.0 628.2 283.9 622.5 275.6 614.6 256.2 601.0 265.9 588.8 275.6 587.5 276.3 573.9 277.3 572.4 275.6 560.3 259.6 558.3 256.1 546.7 233.6 543.9 228.5 533.7 204.3 533.1 203.0 519.5 193.6 509.3 204.3 505.9 207.1 492.3 222.0 479.3 228.5 478.7 228.7 478.5 228.5 465.1 217.3 451.6 204.4 451.4 204.3 438.0 191.4 431.0 181.4 424.4 171.4 410.8 148.8 397.2 149.0 383.6 164.2 370.0 163.1 356.4 158.6 342.8 147.4 329.2 155.3 319.0 181.4 315.7 189.7 310.4 204.3 302.1 223.6 299.6 228.5 288.5 254.5 286.7 256.1 274.9 266.8 261.3 259.0 258.0 256.1 247.7 248.8 234.1 231.2 232.1 228.5 220.5 212.8 215.8 204.3 206.9 190.3 201.2 181.4 193.4 168.5 179.8 146.7 179.7 146.7 167.0 119.1 166.2 116.6 156.7 72.0 160.8 72.0Z M845.7 408.8 859.3 392.1 872.9 398.6 875.7 412.6 879.8 432.1 880.5 447.3 881.3 459.7 880.9 479.2 878.7 494.4 874.6 506.8 872.9 510.2 868.5 517.3 859.3 529.3 856.1 530.5 845.7 534.3 841.7 530.5 832.1 521.5 818.5 524.5 804.9 529.4 791.3 525.3 778.1 530.5 777.7 531.0 764.1 536.1 762.4 530.5 754.8 517.3 752.1 506.8 750.5 499.3 749.7 494.4 748.1 479.2 750.4 459.7 750.5 459.0 756.0 447.3 763.5 432.1 764.1 431.0 777.7 431.5 791.3 427.0 804.9 414.7 818.5 419.2 832.1 426.5 843.8 412.6Z M796.7 432.1 791.3 437.7 777.7 443.8 764.1 444.5 762.8 447.3 758.0 459.7 753.3 479.2 755.1 494.4 757.3 506.8 764.1 516.9 768.5 517.3 777.7 518.5 791.3 519.1 804.9 523.3 818.5 520.8 830.0 517.3 832.1 514.6 834.3 517.3 845.7 527.5 859.3 524.4 864.7 517.3 868.9 506.8 872.9 502.2 875.4 494.4 878.0 479.2 878.1 459.7 877.2 447.3 875.2 432.1 872.9 424.4 859.3 414.2 845.7 421.3 837.2 432.1 832.1 440.9 818.5 435.1 815.6 432.1 804.9 424.4Z M128.7 447.3 130.0 459.7 131.9 479.2 130.7 494.4 129.8 506.8 126.8 517.3 125.4 522.2 125.4 517.3 125.4 510.0 126.2 506.8 125.4 494.5 125.4 494.4 125.4 494.1 126.2 479.2 125.4 470.6 125.4 459.7 125.4 447.3 125.4 441.0Z M913.6 439.9 918.4 447.3 927.2 457.3 927.8 459.7 927.2 467.8 922.1 479.2 913.6 485.7 912.1 479.2 908.5 459.7 911.7 447.3Z M274.9 481.9 277.6 494.4 280.3 506.8 283.3 517.3 286.0 530.5 287.5 536.2 288.5 541.0 288.5 541.5 288.5 541.5 282.0 541.5 281.7 536.2 278.3 530.5 278.1 517.3 274.9 508.1 272.2 517.3 272.5 530.5 269.8 536.2 269.9 541.5 265.2 541.5 265.4 536.2 267.2 530.5 267.9 517.3 270.2 506.8 272.8 494.4Z"/>
<path fill="#263034" stroke="#263034" d="M166.2 78.5 179.3 119.1 179.8 120.2 193.4 136.5 202.4 146.7 206.9 153.0 220.5 169.8 228.1 181.4 234.1 194.4 244.7 204.3 247.7 206.9 261.3 219.3 274.9 221.6 288.5 209.0 290.9 204.3 301.1 181.4 302.1 179.3 314.0 146.7 315.7 142.3 324.3 119.1 329.2 106.9 342.8 106.7 352.9 119.1 356.4 122.8 370.0 126.3 383.6 126.3 390.7 119.1 397.2 112.8 410.8 116.9 412.0 119.1 424.4 140.6 428.1 146.7 438.0 162.5 450.7 181.4 451.6 182.4 465.1 196.9 478.7 202.2 492.3 186.8 495.8 181.4 505.9 168.0 518.6 146.7 519.5 144.6 527.7 146.7 533.1 148.4 544.5 181.4 546.7 187.1 551.9 204.3 559.9 228.5 560.3 229.2 573.9 245.4 587.5 240.7 592.8 228.5 597.1 204.3 599.1 181.4 599.3 146.7 599.2 119.1 599.0 72.0 601.0 72.0 608.2 72.0 607.1 119.1 607.0 146.7 607.7 181.4 607.1 204.3 606.1 228.5 601.0 237.7 593.2 256.1 587.5 262.1 573.9 261.8 569.5 256.1 560.3 244.4 552.1 228.5 546.7 214.3 542.4 204.3 533.1 183.2 530.7 181.4 519.5 170.6 512.1 181.4 505.9 188.2 495.9 204.3 492.3 208.4 478.7 215.8 465.1 207.0 462.3 204.3 451.6 193.4 441.1 181.4 438.0 176.7 424.4 155.7 419.0 146.7 410.8 132.7 397.2 130.7 383.6 144.6 370.0 144.0 356.4 140.5 342.8 127.2 329.2 130.6 323.2 146.7 315.7 165.9 310.0 181.4 302.1 202.7 301.4 204.3 289.0 228.5 288.5 229.8 274.9 243.5 261.3 239.3 247.7 229.2 247.2 228.5 234.1 214.2 226.8 204.3 220.5 190.0 214.7 181.4 206.9 173.2 193.4 152.6 189.7 146.7 179.8 133.4 173.1 119.1 166.2 97.5 160.8 72.0 164.8 72.0Z M641.8 72.0 650.0 72.0 655.4 103.9 657.7 119.1 662.3 146.7 668.8 181.4 669.0 182.0 674.5 181.4 682.6 178.1 685.7 146.7 688.8 119.1 693.9 72.0 696.2 72.0 702.8 72.0 699.1 119.1 698.3 146.7 698.2 181.4 696.2 193.1 692.5 204.3 682.6 213.9 669.0 214.8 658.6 204.3 655.4 183.9 655.1 181.4 651.7 146.7 645.9 119.1 641.8 91.0 637.1 72.0Z M804.9 424.4 815.6 432.1 818.5 435.1 832.1 440.9 837.2 432.1 845.7 421.3 859.3 414.2 872.9 424.4 875.2 432.1 877.2 447.3 878.1 459.7 878.0 479.2 875.4 494.4 872.9 502.2 868.9 506.8 864.7 517.3 859.3 524.4 845.7 527.5 834.3 517.3 832.1 514.6 830.0 517.3 818.5 520.8 804.9 523.3 791.3 519.1 777.7 518.5 768.5 517.3 764.1 516.9 757.3 506.8 755.1 494.4 753.3 479.2 758.0 459.7 762.8 447.3 764.1 444.5 777.7 443.8 791.3 437.7 796.7 432.1Z M845.2 432.1 835.0 447.3 832.1 458.6 818.5 451.6 816.8 447.3 804.9 435.1 792.6 447.3 791.3 449.2 782.2 459.7 777.7 465.5 764.1 464.8 760.0 479.2 760.7 494.4 762.6 506.8 764.1 509.1 768.7 506.8 777.7 497.1 789.8 506.8 791.3 507.8 804.8 517.3 804.9 517.3 807.1 517.3 815.4 506.8 818.5 502.6 832.0 494.4 832.1 494.4 832.1 494.4 837.4 506.8 845.7 516.4 847.5 517.3 859.3 519.4 860.9 517.3 860.0 506.8 871.4 494.4 872.9 490.6 875.1 479.2 874.8 459.7 873.9 447.3 872.9 441.4 868.1 432.1 859.3 423.4 845.7 431.5Z M126.2 479.2 125.4 494.1 125.4 479.2 125.4 470.6Z M126.2 506.8 125.4 510.0 125.4 506.8 125.4 494.5Z M274.9 508.1 278.1 517.3 278.3 530.5 281.7 536.2 282.0 541.5 275.3 541.5 275.8 536.2 274.9 534.9 274.2 536.2 274.6 541.5 269.9 541.5 269.8 536.2 272.5 530.5 272.2 517.3Z"/>
<path fill="#2a383f" stroke="#2a383f" d="M166.2 72.0 170.1 72.0 179.8 102.2 192.2 119.1 193.4 120.4 206.9 136.1 215.6 146.7 220.5 153.2 234.1 172.8 243.7 181.4 247.7 185.4 261.3 199.1 274.9 199.6 288.5 183.2 289.2 181.4 302.1 154.0 304.8 146.7 315.0 119.1 315.7 117.5 329.2 83.8 342.8 85.7 356.4 104.1 370.0 109.0 383.6 107.9 397.2 95.3 410.8 102.3 420.4 119.1 424.4 126.0 436.9 146.7 438.0 148.3 451.6 169.5 460.1 181.4 465.1 186.8 478.7 184.2 481.0 181.4 492.3 165.5 505.9 147.2 506.2 146.7 518.2 119.1 519.5 115.6 533.1 108.1 538.0 119.1 546.0 146.7 546.7 148.5 555.1 181.4 560.3 198.6 562.1 204.3 573.6 228.5 573.9 228.8 574.3 228.5 587.5 216.3 590.8 204.3 594.4 181.4 595.1 146.7 595.1 119.1 594.6 72.0 599.0 72.0 599.2 119.1 599.3 146.7 599.1 181.4 597.1 204.3 592.8 228.5 587.5 240.7 573.9 245.4 560.3 229.2 559.9 228.5 551.9 204.3 546.7 187.1 544.5 181.4 533.1 148.4 527.7 146.7 519.5 144.6 518.6 146.7 505.9 168.0 495.8 181.4 492.3 186.8 478.7 202.2 465.1 196.9 451.6 182.4 450.7 181.4 438.0 162.5 428.1 146.7 424.4 140.6 412.0 119.1 410.8 116.9 397.2 112.8 390.7 119.1 383.6 126.3 370.0 126.3 356.4 122.8 352.9 119.1 342.8 106.7 329.2 106.9 324.3 119.1 315.7 142.3 314.0 146.7 302.1 179.3 301.1 181.4 290.9 204.3 288.5 209.0 274.9 221.6 261.3 219.3 247.7 206.9 244.7 204.3 234.1 194.4 228.1 181.4 220.5 169.8 206.9 153.0 202.4 146.7 193.4 136.5 179.8 120.2 179.3 119.1 166.2 78.5 164.8 72.0Z M655.4 72.0 660.4 72.0 666.8 119.1 669.0 132.7 674.5 119.1 682.6 96.1 685.7 72.0 693.9 72.0 688.8 119.1 685.7 146.7 682.6 178.1 674.5 181.4 669.0 182.0 668.8 181.4 662.3 146.7 657.7 119.1 655.4 103.9 650.0 72.0Z M845.7 431.5 859.3 423.4 868.1 432.1 872.8 441.4 873.9 447.3 874.8 459.7 875.1 479.2 872.9 490.6 871.4 494.4 860.0 506.8 860.9 517.3 859.3 519.4 847.5 517.3 845.7 516.4 837.4 506.8 832.1 494.4 832.1 494.4 832.0 494.4 818.5 502.6 815.4 506.8 807.1 517.3 804.9 517.3 804.8 517.3 791.3 507.8 789.8 506.8 777.7 497.1 768.7 506.8 764.1 509.1 762.6 506.8 760.7 494.4 760.0 479.2 764.1 464.8 777.7 465.5 782.2 459.7 791.3 449.2 792.6 447.3 804.9 435.1 816.8 447.3 818.5 451.6 832.1 458.6 835.0 447.3 845.2 432.1Z M840.3 447.3 838.1 459.7 835.8 479.2 838.5 494.4 845.7 504.4 859.3 501.2 865.7 494.4 871.2 479.2 871.0 459.7 868.4 447.3 859.3 432.8 845.7 439.5Z M798.3 459.7 791.3 473.7 787.0 479.2 791.3 486.7 795.9 494.4 804.9 499.1 809.5 494.4 814.2 479.2 810.2 459.7 804.9 450.6Z M274.9 534.9 275.8 536.2 275.3 541.5 274.9 541.5 274.6 541.5 274.2 536.2Z"/>
<path fill="#2d3e48" stroke="#2d3e48" d="M179.8 83.8 193.4 102.7 205.6 119.1 206.9 120.7 220.5 136.5 229.0 146.7 234.1 153.7 247.7 167.3 261.2 181.4 261.3 181.5 262.1 181.4 274.9 179.8 288.5 160.9 295.0 146.7 302.1 130.6 306.5 119.1 315.7 95.5 325.0 72.0 329.2 72.0 342.8 72.0 347.3 72.0 356.4 85.2 370.0 92.0 383.6 89.4 397.2 77.8 410.8 87.6 424.4 111.9 428.1 119.1 438.0 135.9 445.3 146.7 451.6 156.4 465.1 169.4 478.7 163.2 491.1 146.7 492.3 145.1 505.9 122.7 507.5 119.1 519.5 87.2 531.0 72.0 533.1 72.0 534.9 72.0 546.7 98.1 552.7 119.1 556.3 146.7 560.3 162.1 566.2 181.4 573.1 204.3 573.9 205.8 575.6 204.3 587.5 192.9 589.7 181.4 591.0 146.7 591.0 119.1 590.1 72.0 594.6 72.0 595.1 119.1 595.1 146.7 594.4 181.4 590.8 204.3 587.5 216.3 574.3 228.5 573.9 228.8 573.6 228.5 562.1 204.3 560.3 198.6 555.1 181.4 546.7 148.5 546.0 146.7 538.0 119.1 533.1 108.1 519.5 115.6 518.2 119.1 506.2 146.7 505.9 147.2 492.3 165.5 481.0 181.4 478.7 184.2 465.1 186.8 460.1 181.4 451.6 169.5 438.0 148.3 436.9 146.7 424.4 126.0 420.4 119.1 410.8 102.3 397.2 95.3 383.6 107.9 370.0 109.0 356.4 104.1 342.8 85.7 329.2 83.8 315.7 117.5 315.0 119.1 304.8 146.7 302.1 154.0 289.2 181.4 288.5 183.2 274.9 199.6 261.3 199.1 247.7 185.4 243.7 181.4 234.1 172.8 220.5 153.2 215.6 146.7 206.9 136.1 193.4 120.4 192.2 119.1 179.8 102.2 170.1 72.0 176.0 72.0Z M669.0 72.0 682.6 72.0 685.7 72.0 682.6 96.1 674.5 119.1 669.0 132.7 666.8 119.1 660.4 72.0Z M845.7 439.5 859.3 432.8 868.4 447.3 871.0 459.7 871.2 479.2 865.7 494.4 859.3 501.2 845.7 504.4 838.5 494.4 835.8 479.2 838.1 459.7 840.3 447.3Z M845.9 447.3 845.7 447.8 844.4 459.7 844.5 479.2 844.9 494.4 845.7 495.4 859.3 495.1 860.0 494.4 864.3 479.2 866.4 459.7 862.0 447.3 859.3 443.0Z M804.9 450.6 810.2 459.7 814.2 479.2 809.5 494.4 804.9 499.1 795.9 494.4 791.3 486.7 787.0 479.2 791.3 473.7 798.3 459.7Z M798.4 479.2 804.9 487.6 808.8 479.2 804.9 467.7Z"/>
<path fill="#304551" stroke="#304551" d="M179.8 72.0 184.3 72.0 193.4 84.8 206.9 98.3 219.8 119.1 220.5 119.9 234.1 136.7 244.5 146.7 247.7 150.0 261.3 163.0 274.9 161.4 284.3 146.7 288.5 139.5 297.6 119.1 302.1 109.2 315.7 73.4 316.2 72.0 325.0 72.0 315.7 95.5 306.5 119.1 302.1 130.6 295.0 146.7 288.5 160.9 274.9 179.8 262.1 181.4 261.3 181.5 261.2 181.4 247.7 167.3 234.1 153.7 229.0 146.7 220.5 136.5 206.9 120.7 205.6 119.1 193.4 102.7 179.8 83.8 176.0 72.0Z M356.4 72.0 365.0 72.0 370.0 75.0 380.2 72.0 383.6 72.0 397.2 72.0 409.6 72.0 410.8 72.9 424.4 98.1 435.2 119.1 438.0 123.8 451.6 141.5 465.1 144.2 478.7 141.2 492.3 123.6 495.0 119.1 505.9 97.8 515.3 72.0 519.5 72.0 531.0 72.0 519.5 87.2 507.5 119.1 505.9 122.7 492.3 145.1 491.1 146.7 478.7 163.2 465.1 169.4 451.6 156.4 445.3 146.7 438.0 135.9 428.1 119.1 424.4 111.9 410.8 87.6 397.2 77.8 383.6 89.4 370.0 92.0 356.4 85.2 347.3 72.0Z M546.7 72.0 552.4 72.0 560.3 99.8 565.4 119.1 569.3 146.7 573.9 162.9 583.0 146.7 585.1 119.1 582.9 72.0 587.5 72.0 590.1 72.0 591.0 119.1 591.0 146.7 589.7 181.4 587.5 192.9 575.6 204.3 573.9 205.8 573.1 204.3 566.2 181.4 560.3 162.1 556.3 146.7 552.7 119.1 546.7 98.1 534.9 72.0Z M859.3 443.0 862.0 447.3 866.4 459.7 864.3 479.2 860.0 494.4 859.3 495.1 845.7 495.4 844.9 494.4 844.5 479.2 844.4 459.7 845.7 447.8 845.9 447.3Z M853.7 459.7 859.3 472.7 861.8 459.7 859.3 453.6Z M804.9 467.7 808.8 479.2 804.9 487.6 798.4 479.2Z"/>
<path fill="#324c5a" stroke="#324c5a" d="M193.4 72.0 202.7 72.0 206.9 75.0 220.5 94.5 232.6 119.1 234.1 120.9 247.7 131.6 261.3 142.8 274.9 142.0 288.5 119.4 288.6 119.1 302.1 89.0 308.5 72.0 315.7 72.0 316.2 72.0 315.7 73.4 302.1 109.2 297.6 119.1 288.5 139.5 284.3 146.7 274.9 161.4 261.3 163.0 247.7 150.0 244.5 146.7 234.1 136.7 220.5 119.9 219.8 119.1 206.9 98.3 193.4 84.8 184.3 72.0Z M370.0 72.0 380.2 72.0 370.0 75.0 365.0 72.0Z M410.8 72.0 417.7 72.0 424.4 84.3 438.0 108.9 449.5 119.1 451.6 121.3 465.1 125.8 476.8 119.1 478.7 117.1 492.3 97.2 505.9 72.9 506.2 72.0 515.3 72.0 505.9 97.8 495.0 119.1 492.3 123.6 478.7 141.2 465.1 144.2 451.6 141.5 438.0 123.8 435.2 119.1 424.4 98.1 410.8 72.9 409.6 72.0Z M560.3 72.0 573.9 72.0 582.9 72.0 585.1 119.1 583.0 146.7 573.9 162.9 569.3 146.7 565.4 119.1 560.3 99.8 552.4 72.0Z M859.3 453.6 861.8 459.7 859.3 472.7 853.7 459.7Z"/>
<path fill="#345364" stroke="#345364" d="M206.9 72.0 220.5 72.0 222.7 72.0 234.1 93.2 247.7 110.4 261.3 113.7 274.9 118.7 288.5 97.6 300.5 72.0 302.1 72.0 308.5 72.0 302.1 89.0 288.6 119.1 288.5 119.4 274.9 142.0 261.3 142.8 247.7 131.6 234.1 120.9 232.6 119.1 220.5 94.5 206.9 75.0 202.7 72.0Z M424.4 72.0 425.5 72.0 438.0 92.4 451.6 102.7 465.1 95.6 478.7 83.3 489.4 72.0 492.3 72.0 505.9 72.0 506.2 72.0 505.9 72.9 492.3 97.2 478.7 117.1 476.8 119.1 465.1 125.8 451.6 121.3 449.5 119.1 438.0 108.9 424.4 84.3 417.7 72.0Z"/>
<path fill="#385c6f" stroke="#385c6f" d="M234.1 72.0 239.3 72.0 247.7 83.9 261.3 94.6 274.9 95.7 288.5 75.9 290.3 72.0 300.5 72.0 288.5 97.6 274.9 118.7 261.3 113.7 247.7 110.4 234.1 93.2 222.7 72.0Z M438.0 75.9 451.6 84.3 460.4 72.0 465.1 72.0 478.7 72.0 489.4 72.0 478.7 83.3 465.1 95.6 451.6 102.7 438.0 92.4 425.5 72.0 435.6 72.0Z"/>
<path fill="#3b6379" stroke="#3b6379" d="M247.7 72.0 257.9 72.0 261.3 75.5 274.9 72.6 275.3 72.0 288.5 72.0 290.3 72.0 288.5 75.9 274.9 95.7 261.3 94.6 247.7 83.9 239.3 72.0Z M438.0 72.0 451.6 72.0 460.4 72.0 451.6 84.3 438.0 75.9 435.6 72.0Z"/>
<path fill="#3e6980" stroke="#3e6980" d="M261.3 72.0 274.9 72.0 275.3 72.0 274.9 72.6 261.3 75.5 257.9 72.0Z"/>
</g>
<path class="n" d="M451.6 402.6 448.3 412.6 448.6 432.1 451.6 440.1 459.9 447.3 465.1 452.8 469.5 447.3 478.7 435.4 482.1 432.1 481.7 412.6 478.7 406.5 465.1 390.1Z M533.1 480.7 528.9 494.4 532.2 506.8 533.1 508.2 539.1 506.8 546.7 501.6 548.0 494.4 546.7 490.0 533.1 480.7"/>
<path class="n" d="M451.6 369.1 443.1 385.0 438.0 401.1 435.7 412.6 434.1 432.1 438.0 444.9 439.1 447.3 444.4 459.7 449.3 479.2 451.6 487.0 453.9 494.4 458.7 506.8 463.6 517.3 465.1 519.3 478.7 517.4 478.9 517.3 487.0 506.8 492.3 497.7 500.1 494.4 505.9 490.8 509.7 494.4 515.4 506.8 519.5 510.4 522.9 517.3 533.1 528.0 538.2 530.5 546.7 534.0 551.1 530.5 558.1 517.3 560.3 510.6 561.4 506.8 560.3 494.4 560.3 494.3 557.1 479.2 552.6 459.7 549.6 447.3 546.7 438.6 542.5 432.1 533.1 423.7 519.5 421.1 505.9 417.2 502.9 412.6 492.3 393.3 488.2 385.0 478.7 374.2 465.1 365.1Z"/>
<path class="n" d="M556.4 541.5 560.3 538.5 562.2 536.2 568.6 530.5 573.9 518.5 574.3 517.3 576.3 506.8 576.2 494.4 575.0 479.2 573.9 472.1 570.5 459.7 566.4 447.3 562.2 432.1 560.3 427.3 553.2 412.6 546.7 405.4 533.1 398.0 519.5 394.1 508.2 385.0 505.9 383.4 492.3 366.5 486.7 360.8 478.7 353.1 465.1 344.8 451.6 344.4 439.8 360.8 438.0 364.1 431.2 385.0 426.4 412.6 424.9 432.1 428.0 447.3 432.2 459.7 435.9 479.2 438.0 484.9 441.3 494.4 447.1 506.8 451.5 517.3 451.6 517.3 461.5 530.5 465.1 534.3 478.7 530.8 479.2 530.5 492.3 519.8 505.9 519.4 519.5 526.2 523.6 530.5 528.6 536.2 531.0 541.5"/>
<path class="n" d="M479.3 541.5 487.0 536.2 492.3 532.6 505.9 530.8 517.6 536.2 519.5 541.2 519.6 541.5 M579.1 541.5 581.1 536.2 584.6 530.5 586.9 517.3 586.5 506.8 586.6 494.4 585.3 479.2 582.8 459.7 580.6 447.3 579.1 432.1 574.6 412.6 573.9 411.1 560.3 393.0 552.0 385.0 546.7 380.5 533.1 374.9 519.5 369.8 506.9 360.8 505.9 360.0 492.3 344.2 485.8 337.9 478.7 332.2 465.1 323.8 460.0 322.7 451.6 320.8 449.7 322.7 438.0 334.4 435.2 337.9 426.5 360.8 424.4 368.7 418.7 385.0 412.8 412.6 412.3 432.1 416.2 447.3 419.7 459.7 422.8 479.2 424.4 483.8 426.9 494.4 433.9 506.8 438.0 514.0 439.6 517.3 449.5 530.5 451.6 533.8 453.3 536.2 458.0 541.5 M999.6 541.5 995.2 536.9 992.3 536.2 981.6 534.2 968.0 534.7 966.2 536.2 960.5 541.5 M1049.5 206.6 1047.8 228.5 1047.6 256.1 1049.5 272.5 1050.3 275.6 1061.7 303.2 1063.1 307.1 1068.7 303.2 1076.7 289.6 1078.5 275.6 1077.5 256.1 1076.7 249.5 1071.3 228.5 1063.1 205.3Z"/>
<path class="n" d="M595.4 541.5 596.8 536.2 597.9 530.5 598.1 517.3 597.4 506.8 595.4 494.4 594.2 479.2 593.0 459.7 592.5 447.3 592.1 432.1 590.3 412.6 587.5 403.6 578.9 385.0 573.9 378.9 560.3 366.8 553.2 360.8 546.7 355.5 533.1 349.0 519.5 344.4 507.8 337.9 505.9 337.0 492.3 324.5 490.1 322.7 478.7 313.7 466.6 303.2 465.1 302.0 451.6 298.1 440.4 303.2 438.0 305.1 424.4 321.7 423.8 322.7 415.2 337.9 410.8 349.1 404.0 360.8 397.2 378.1 393.6 385.0 390.4 412.6 390.8 432.1 394.2 447.3 395.5 459.7 396.7 479.2 397.2 483.8 402.6 494.4 410.8 499.7 417.0 506.8 424.4 514.2 426.0 517.3 438.0 530.0 438.3 530.5 444.3 536.2 447.7 541.5 M1012.9 541.5 1012.5 536.2 1012.7 530.5 1008.8 517.4 995.2 517.5 981.6 519.7 977.1 517.3 968.0 506.8 968.0 506.8 968.0 506.8 958.4 517.3 954.4 520.9 950.8 530.5 949.6 536.2 948.2 541.5 M1049.5 126.2 1037.0 146.7 1035.9 150.1 1031.2 181.4 1031.8 204.3 1034.8 228.5 1035.9 236.1 1037.9 256.1 1040.5 275.6 1043.7 303.2 1045.3 322.7 1049.5 337.8 1049.6 337.9 1063.1 358.1 1068.0 360.8 1076.7 367.5 1079.6 360.8 1090.3 338.1 1090.4 337.9 1093.2 322.7 1095.9 303.2 1098.7 275.6 1098.5 256.1 1096.7 228.5 1092.7 204.3 1091.2 181.4 1090.3 179.2 1076.7 147.6 1076.0 146.7 1063.1 130.7Z M193.3 335.0 190.8 337.9 179.8 357.8 179.0 360.8 175.0 385.0 177.9 412.6 179.8 424.6 181.7 432.1 190.9 447.3 193.4 448.8 194.5 447.3 200.2 432.1 205.0 412.6 206.9 385.2 207.0 385.0 206.9 384.8 203.6 360.8 196.0 337.9 193.4 335.0 M220.5 521.7 214.5 530.5 220.5 534.8 225.7 530.5Z"/>
<path class="n" d="M748.1 72.0 750.1 119.1 750.5 121.9 764.1 145.6 774.8 119.1 773.9 72.0 M782.4 72.0 781.0 119.1 791.3 136.3 797.5 146.7 804.9 151.3 818.5 150.1 831.3 146.7 832.1 146.4 832.3 146.7 845.7 163.5 859.3 151.1 860.3 146.7 860.1 119.1 859.3 98.5 858.1 72.0 M1041.2 72.0 1035.9 78.5 1024.1 119.1 1022.3 126.7 1017.3 146.7 1014.2 181.4 1015.7 204.3 1019.0 228.5 1022.3 255.1 1022.4 256.1 1025.4 275.6 1027.9 303.2 1030.6 322.7 1034.6 337.9 1035.9 341.7 1043.6 360.8 1049.5 369.9 1058.0 385.0 1063.1 391.3 1076.7 400.4 1088.2 385.0 1090.3 380.6 1099.8 360.8 1103.9 350.1 1109.7 337.9 1115.0 322.7 1117.5 313.5 1122.5 303.2 1131.1 287.3 1144.7 278.7 1152.8 275.6 1158.2 273.3 M1158.2 145.2 1144.7 139.9 1131.1 139.0 1117.5 146.1 1103.9 144.3 1090.3 124.9 1086.5 119.1 1076.7 101.1 1063.1 80.9 1054.9 72.0 M242.7 541.5 241.8 536.2 241.5 530.5 240.9 517.3 240.8 506.8 236.5 494.4 234.1 486.4 220.5 490.4 214.6 494.4 206.9 498.0 203.6 494.4 201.4 479.2 203.8 459.7 206.9 453.0 211.7 447.3 220.5 439.1 232.9 432.1 234.1 425.6 234.7 412.6 234.1 394.9 233.7 385.0 228.9 360.8 222.3 337.9 220.5 333.6 216.0 322.7 207.8 303.2 206.9 301.5 195.2 275.6 193.4 273.0 179.8 275.0 179.4 275.6 168.8 303.2 166.2 316.8 165.5 322.7 163.1 337.9 159.5 360.8 156.9 385.0 159.7 412.6 166.2 431.8 166.3 432.1 173.2 447.3 179.8 459.6 179.8 459.7 185.9 479.2 184.0 494.4 180.8 506.8 179.8 508.0 177.5 517.3 176.1 530.5 175.4 536.2 174.1 541.5 M402.5 541.5 407.3 536.2 410.8 532.4 419.5 530.5 424.4 529.7 425.1 530.5 434.7 536.2 438.0 539.6 439.1 541.5 M609.7 541.5 610.9 536.2 611.7 530.5 611.8 517.3 610.8 506.8 607.2 494.4 604.8 479.2 603.7 459.7 603.5 447.3 605.1 432.1 606.3 412.6 601.0 389.3 600.0 385.0 587.5 364.4 584.1 360.8 573.9 353.3 560.3 343.2 554.0 337.9 546.7 328.7 540.2 322.7 533.1 316.8 519.5 313.9 505.9 310.4 495.9 303.2 492.3 301.3 478.7 293.4 465.1 283.5 451.6 276.3 447.5 275.6 438.0 272.9 428.6 275.6 424.4 277.1 410.8 280.8 398.7 303.2 397.2 305.6 383.6 309.8 378.6 303.2 370.0 293.2 356.4 297.0 352.4 303.2 345.2 322.7 342.8 332.5 341.5 337.9 337.5 360.8 338.8 385.0 342.8 392.5 354.5 412.6 356.4 419.1 361.4 432.1 366.6 447.3 370.0 451.8 383.6 455.2 384.5 459.7 386.2 479.2 387.1 494.4 389.8 506.8 391.0 517.3 392.5 530.5 393.1 536.2 394.8 541.5 M729.8 541.5 727.7 536.2 724.8 530.5 723.4 528.1 710.4 530.5 709.8 530.8 707.3 536.2 703.0 541.5 M901.8 541.5 900.0 537.7 899.4 536.2 896.8 530.5 886.4 519.6 878.2 530.5 875.5 536.2 873.0 541.5 M1022.8 541.5 1023.3 536.2 1024.6 530.5 1023.8 517.3 1022.3 509.2 1021.4 506.8 1013.4 494.4 1008.8 489.3 995.2 484.1 990.2 479.2 981.6 465.3 978.6 459.7 968.0 448.7 959.4 459.7 954.4 470.8 953.2 479.2 951.8 494.4 951.4 506.8 946.9 517.3 940.8 530.4 940.7 530.5 939.1 536.2 937.4 541.5 M682.6 367.9 670.2 385.0 669.0 396.9 668.0 412.6 669.0 419.6 676.2 432.1 682.6 438.6 696.2 437.3 700.9 432.1 709.8 424.4 723.4 415.5 725.5 412.6 730.2 385.0 723.4 373.7 709.8 375.7 696.2 370.1Z M641.8 504.5 637.1 506.8 628.7 517.3 633.1 530.5 637.4 536.2 641.8 537.2 646.0 536.2 644.3 530.5 645.2 517.3 644.6 506.8Z"/>
<path class="n" d="M738.1 72.0 739.3 119.1 742.6 146.7 750.5 177.5 753.6 181.4 764.1 199.3 777.7 196.7 791.3 197.7 804.9 198.9 818.5 196.9 832.1 196.6 841.7 204.3 845.7 208.1 859.3 217.4 872.6 204.3 872.9 203.5 881.0 181.4 884.0 146.7 881.6 119.1 872.9 76.3 872.3 72.0 M933.5 72.0 927.2 95.9 920.3 119.1 918.1 146.7 926.2 181.4 927.2 183.8 940.8 193.8 954.4 192.1 968.0 196.9 980.1 204.3 981.6 205.1 995.2 226.9 995.6 228.5 1002.2 256.1 1006.2 275.6 1008.8 293.0 1009.7 303.2 1008.8 319.5 1008.3 322.7 1008.0 337.9 1002.0 360.8 995.2 375.8 981.6 383.1 979.6 385.0 968.0 393.7 959.2 412.6 954.4 429.2 954.0 432.1 950.3 447.3 948.8 459.7 946.2 479.2 945.2 494.4 942.4 506.8 940.8 510.6 935.5 517.3 927.2 525.9 921.8 530.5 915.7 536.2 913.6 537.2 912.7 536.2 908.9 530.5 900.0 518.8 898.6 517.3 886.4 508.1 881.5 517.3 872.9 527.6 870.5 530.5 867.5 536.2 865.4 541.5 M1158.2 100.5 1144.7 96.4 1131.1 92.9 1117.5 92.9 1103.9 93.5 1090.3 75.6 1088.3 72.0 M125.4 154.9 128.7 146.7 130.1 119.1 125.4 91.0 M252.4 541.5 252.1 536.2 251.1 530.5 249.3 517.3 247.7 508.4 247.5 506.8 247.0 494.4 246.9 479.2 247.5 459.7 247.7 458.8 249.7 447.3 252.7 432.1 254.6 412.6 254.4 385.0 251.4 360.8 247.7 344.3 246.2 337.9 239.0 322.7 234.1 310.5 231.5 303.2 220.5 282.1 217.2 275.6 206.9 257.1 206.2 256.1 193.4 237.2 185.3 228.5 179.8 222.2 166.2 218.5 162.3 228.5 152.6 255.2 152.3 256.1 149.7 275.6 147.9 303.2 146.1 322.7 144.9 337.9 143.2 360.8 141.1 385.0 141.9 412.6 143.2 432.1 152.6 440.6 157.2 447.3 166.2 456.6 167.6 459.7 169.9 479.2 167.7 494.4 166.2 504.7 162.8 506.8 152.6 516.1 139.0 515.7 138.2 517.3 139.0 524.9 142.6 530.5 141.0 536.2 140.3 541.5 M325.4 541.5 315.7 539.5 306.9 541.5 M741.6 541.5 741.0 536.2 740.6 530.5 736.9 518.4 736.0 517.3 730.2 506.8 726.3 494.4 723.4 482.2 722.5 479.2 723.4 470.4 724.8 459.7 729.5 447.3 736.9 436.3 737.9 432.1 745.8 412.6 750.5 391.1 752.5 385.0 754.2 360.8 750.5 338.5 750.4 337.9 744.4 322.7 736.9 311.4 723.4 317.7 715.4 322.7 709.8 325.3 696.2 326.2 682.6 325.0 670.0 337.9 669.0 338.9 655.4 358.7 654.2 360.8 641.8 384.1 628.2 383.7 614.6 369.0 609.3 360.8 601.0 349.1 587.8 337.9 587.5 337.7 573.9 327.7 568.4 322.7 560.3 316.7 549.3 303.2 546.7 298.5 533.1 280.7 522.7 275.6 519.5 274.1 516.5 275.6 505.9 279.8 492.3 278.7 486.6 275.6 478.7 271.6 465.1 263.6 454.1 256.1 451.6 254.0 438.0 241.9 424.4 233.0 414.7 228.5 410.8 225.9 408.5 228.5 397.2 240.7 383.6 256.0 370.0 244.4 356.4 240.2 342.8 248.2 338.6 256.1 331.6 275.6 329.2 281.7 321.4 303.2 315.7 317.4 313.1 322.7 305.8 337.9 302.1 350.7 298.9 360.8 296.4 385.0 299.0 412.6 302.1 423.3 307.9 432.1 315.7 434.7 323.1 432.1 329.2 428.6 336.1 432.1 342.8 434.6 348.9 447.3 355.5 459.7 356.4 463.1 363.0 479.2 369.5 494.4 370.0 495.5 375.3 506.8 381.0 517.3 383.6 521.7 385.3 530.5 385.7 536.2 385.4 541.5 M1033.6 541.5 1033.0 536.2 1032.7 530.5 1032.0 517.3 1031.6 506.8 1030.1 494.4 1026.8 479.2 1022.3 463.3 1019.7 459.7 1014.0 447.3 1013.9 432.1 1022.3 417.2 1025.4 412.6 1035.9 399.8 1049.5 404.1 1058.3 412.6 1063.1 419.5 1076.7 431.9 1090.3 419.4 1096.1 412.6 1103.9 403.9 1117.5 405.5 1121.6 385.0 1130.0 360.8 1131.1 357.8 1139.9 337.9 1144.7 332.0 1158.2 329.8 M1116.5 541.5 1103.9 540.4 1090.3 540.9 1076.7 538.0 1076.2 536.2 1075.3 530.5 1072.6 517.3 1063.1 508.3 1056.9 517.3 1056.1 530.5 1055.9 536.2 1056.7 541.5 M1117.5 426.2 1116.7 432.1 1114.9 447.3 1113.2 459.7 1113.1 479.2 1113.1 494.4 1113.6 506.8 1115.0 517.3 1116.2 530.5 1116.6 536.2 1117.5 540.3 1118.7 536.2 1121.3 530.5 1126.8 517.3 1130.9 506.8 1131.1 506.4 1133.9 494.4 1135.2 479.2 1136.9 459.7 1132.5 447.3 1131.1 439.6 1122.1 432.1Z"/>
<path class="n" d="M726.0 72.0 727.8 119.1 730.0 146.7 733.1 181.4 735.8 204.3 735.4 228.5 724.8 256.1 723.4 258.1 711.1 275.6 709.8 277.1 696.2 280.6 682.6 283.4 669.0 293.8 664.2 303.2 655.4 320.9 654.3 322.7 644.6 337.9 641.8 342.8 628.2 340.8 625.6 337.9 614.6 324.8 612.6 322.7 601.0 311.4 587.5 307.3 577.0 303.2 573.9 302.0 560.3 289.2 552.8 275.6 546.7 264.9 540.2 256.1 533.1 243.1 519.5 235.1 505.9 243.4 492.3 252.7 478.7 250.0 465.1 240.0 451.6 229.5 450.6 228.5 438.0 216.9 427.9 204.3 424.4 199.2 410.8 182.1 397.2 191.3 387.3 204.3 383.6 208.5 370.8 204.3 370.0 204.0 356.4 196.5 342.8 192.2 335.4 204.3 329.2 216.7 324.1 228.5 315.7 249.2 313.1 256.1 305.0 275.6 302.1 282.5 292.4 303.2 288.5 311.6 277.8 322.7 274.9 325.8 272.0 322.7 261.3 310.7 258.0 303.2 247.7 287.9 240.9 275.6 234.1 265.9 228.2 256.1 220.5 245.1 211.2 228.5 206.9 220.7 196.5 204.3 193.4 199.5 180.3 181.4 179.8 180.6 166.2 148.1 165.8 146.7 157.0 119.1 152.6 96.3 147.0 72.0 M900.2 72.0 900.0 72.4 899.9 72.0 M125.4 423.3 130.0 432.1 137.4 447.3 139.0 453.1 143.0 459.7 146.1 479.2 142.6 494.4 139.0 499.9 137.0 506.8 132.5 517.3 130.7 530.5 130.2 536.2 129.8 541.5 M258.0 541.5 258.1 536.2 258.1 530.5 259.1 517.3 259.5 506.8 260.0 494.4 260.4 479.2 261.3 467.3 262.8 459.7 270.0 447.3 274.9 437.1 288.5 445.5 290.7 447.3 297.9 459.7 300.9 479.2 299.6 494.4 298.9 506.8 297.7 517.3 296.5 530.5 295.9 536.2 295.7 541.5 M748.7 541.5 747.5 536.2 746.6 530.5 744.4 517.3 742.4 506.8 741.1 494.4 739.9 479.2 742.2 459.7 744.9 447.3 750.5 436.6 753.2 432.1 764.1 413.5 766.5 412.6 777.7 400.8 791.3 389.5 794.4 385.0 795.8 360.8 791.7 337.9 791.3 336.4 789.3 322.7 789.0 303.2 791.3 287.9 804.9 278.4 807.7 275.6 818.5 267.6 831.7 256.1 832.1 255.9 832.7 256.1 845.7 260.2 859.3 271.0 872.9 271.2 886.4 271.1 900.0 269.0 913.6 271.2 919.8 275.6 927.2 283.2 940.8 287.2 954.4 279.5 968.0 295.7 972.1 303.2 968.0 321.2 967.7 322.7 964.9 337.9 958.9 360.8 954.4 371.7 950.3 385.0 941.9 412.6 940.8 423.5 939.3 432.1 940.5 447.3 940.8 449.5 941.5 459.7 940.8 465.3 938.1 479.2 935.6 494.4 928.6 506.8 927.2 508.3 913.6 515.7 907.9 506.8 900.0 494.9 898.7 494.4 886.4 482.8 885.5 494.4 880.9 506.8 875.4 517.3 872.9 520.3 864.5 530.5 860.6 536.2 859.3 538.9 850.2 541.5 M842.2 541.5 835.0 536.2 832.1 532.5 818.5 533.3 814.3 536.2 811.7 541.5 M1035.9 443.9 1049.5 432.7 1058.1 447.3 1059.8 459.7 1052.1 479.2 1049.5 481.3 1047.8 479.2 1036.1 459.7 1035.9 458.2 1035.0 447.3Z M329.2 454.1 342.8 459.6 342.9 459.7 345.2 479.2 344.7 494.4 342.8 497.6 329.2 506.5 317.9 494.4 315.7 490.7 305.4 479.2 315.7 467.7 319.8 459.7Z"/>
<path class="z" d="M711.6 72.0 711.6 119.1 711.6 146.7 711.8 181.4 710.2 204.3 709.8 206.1 699.5 228.5 696.2 232.0 682.6 239.3 669.0 248.9 664.5 256.1 655.4 270.1 651.8 275.6 641.8 292.0 628.2 283.9 622.5 275.6 614.6 256.2 601.0 265.9 588.8 275.6 587.5 276.3 573.9 277.3 572.4 275.6 560.3 259.6 558.3 256.1 546.7 233.6 543.9 228.5 533.7 204.3 533.1 203.0 519.5 193.6 509.3 204.3 505.9 207.1 492.3 222.0 479.3 228.5 478.7 228.7 478.5 228.5 465.1 217.3 451.6 204.4 451.4 204.3 438.0 191.4 431.0 181.4 424.4 171.4 410.8 148.8 397.2 149.0 383.6 164.2 370.0 163.1 356.4 158.6 342.8 147.4 329.2 155.3 319.0 181.4 315.7 189.7 310.4 204.3 302.1 223.6 299.6 228.5 288.5 254.5 286.7 256.1 274.9 266.8 261.3 259.0 258.0 256.1 247.7 248.8 234.1 231.2 232.1 228.5 220.5 212.8 215.8 204.3 206.9 190.3 201.2 181.4 193.4 168.5 179.8 146.7 179.7 146.7 167.0 119.1 166.2 116.6 156.7 72.0 M125.4 441.0 128.7 447.3 130.0 459.7 131.9 479.2 130.7 494.4 129.8 506.8 126.8 517.3 125.4 522.2 M265.2 541.5 265.4 536.2 267.2 530.5 267.9 517.3 270.2 506.8 272.8 494.4 274.9 481.9 277.6 494.4 280.3 506.8 283.3 517.3 286.0 530.5 287.5 536.2 288.5 541.0 288.5 541.5 M845.7 408.8 859.3 392.1 872.9 398.6 875.7 412.6 879.8 432.1 880.5 447.3 881.3 459.7 880.9 479.2 878.7 494.4 874.6 506.8 872.9 510.2 868.5 517.3 859.3 529.3 856.1 530.5 845.7 534.3 841.7 530.5 832.1 521.5 818.5 524.5 804.9 529.4 791.3 525.3 778.1 530.5 777.7 531.0 764.1 536.1 762.4 530.5 754.8 517.3 752.1 506.8 750.5 499.3 749.7 494.4 748.1 479.2 750.4 459.7 750.5 459.0 756.0 447.3 763.5 432.1 764.1 431.0 777.7 431.5 791.3 427.0 804.9 414.7 818.5 419.2 832.1 426.5 843.8 412.6Z M913.6 439.9 918.4 447.3 927.2 457.3 927.8 459.7 927.2 467.8 922.1 479.2 913.6 485.7 912.1 479.2 908.5 459.7 911.7 447.3Z"/>
<path class="p" d="M599.0 72.0 599.2 119.1 599.3 146.7 599.1 181.4 597.1 204.3 592.8 228.5 587.5 240.7 573.9 245.4 560.3 229.2 559.9 228.5 551.9 204.3 546.7 187.1 544.5 181.4 533.1 148.4 527.7 146.7 519.5 144.6 518.6 146.7 505.9 168.0 495.8 181.4 492.3 186.8 478.7 202.2 465.1 196.9 451.6 182.4 450.7 181.4 438.0 162.5 428.1 146.7 424.4 140.6 412.0 119.1 410.8 116.9 397.2 112.8 390.7 119.1 383.6 126.3 370.0 126.3 356.4 122.8 352.9 119.1 342.8 106.7 329.2 106.9 324.3 119.1 315.7 142.3 314.0 146.7 302.1 179.3 301.1 181.4 290.9 204.3 288.5 209.0 274.9 221.6 261.3 219.3 247.7 206.9 244.7 204.3 234.1 194.4 228.1 181.4 220.5 169.8 206.9 153.0 202.4 146.7 193.4 136.5 179.8 120.2 179.3 119.1 166.2 78.5 164.8 72.0 M693.9 72.0 688.8 119.1 685.7 146.7 682.6 178.1 674.5 181.4 669.0 182.0 668.8 181.4 662.3 146.7 657.7 119.1 655.4 103.9 650.0 72.0 M274.6 541.5 274.2 536.2 274.9 534.9 275.8 536.2 275.3 541.5 M845.7 431.5 859.3 423.4 868.1 432.1 872.8 441.4 873.9 447.3 874.8 459.7 875.1 479.2 872.9 490.6 871.4 494.4 860.0 506.8 860.9 517.3 859.3 519.4 847.5 517.3 845.7 516.4 837.4 506.8 832.1 494.4 832.1 494.4 832.0 494.4 818.5 502.6 815.4 506.8 807.1 517.3 804.9 517.3 804.8 517.3 791.3 507.8 789.8 506.8 777.7 497.1 768.7 506.8 764.1 509.1 762.6 506.8 760.7 494.4 760.0 479.2 764.1 464.8 777.7 465.5 782.2 459.7 791.3 449.2 792.6 447.3 804.9 435.1 816.8 447.3 818.5 451.6 832.1 458.6 835.0 447.3 845.2 432.1Z"/>
<path class="p" d="M325.0 72.0 315.7 95.5 306.5 119.1 302.1 130.6 295.0 146.7 288.5 160.9 274.9 179.8 262.1 181.4 261.3 181.5 261.2 181.4 247.7 167.3 234.1 153.7 229.0 146.7 220.5 136.5 206.9 120.7 205.6 119.1 193.4 102.7 179.8 83.8 176.0 72.0 M531.0 72.0 519.5 87.2 507.5 119.1 505.9 122.7 492.3 145.1 491.1 146.7 478.7 163.2 465.1 169.4 451.6 156.4 445.3 146.7 438.0 135.9 428.1 119.1 424.4 111.9 410.8 87.6 397.2 77.8 383.6 89.4 370.0 92.0 356.4 85.2 347.3 72.0 M590.1 72.0 591.0 119.1 591.0 146.7 589.7 181.4 587.5 192.9 575.6 204.3 573.9 205.8 573.1 204.3 566.2 181.4 560.3 162.1 556.3 146.7 552.7 119.1 546.7 98.1 534.9 72.0 M859.3 443.0 862.0 447.3 866.4 459.7 864.3 479.2 860.0 494.4 859.3 495.1 845.7 495.4 844.9 494.4 844.5 479.2 844.4 459.7 845.7 447.8 845.9 447.3Z M804.9 467.7 808.8 479.2 804.9 487.6 798.4 479.2Z"/>
<path class="p" d="M308.5 72.0 302.1 89.0 288.6 119.1 288.5 119.4 274.9 142.0 261.3 142.8 247.7 131.6 234.1 120.9 232.6 119.1 220.5 94.5 206.9 75.0 202.7 72.0 M506.2 72.0 505.9 72.9 492.3 97.2 478.7 117.1 476.8 119.1 465.1 125.8 451.6 121.3 449.5 119.1 438.0 108.9 424.4 84.3 417.7 72.0"/>
<path class="p" d="M290.3 72.0 288.5 75.9 274.9 95.7 261.3 94.6 247.7 83.9 239.3 72.0 M460.4 72.0 451.6 84.3 438.0 75.9 435.6 72.0"/>
<line x1="941.1" y1="72" x2="941.1" y2="541.5" stroke="#f4f4f4" stroke-width="3" stroke-dasharray="10.3 4.2" stroke-dashoffset="4.3"/>
<text x="973.8" y="109.3" font-size="30">Forecast</text>
<line x1="712.7" y1="376.3" x2="783.2" y2="214.8" stroke="#e8191e" stroke-width="3.6"/>
<path d="M790.0 199.2 L790.8 219.2 L774.8 212.2Z" fill="#e8191e"/>
<line x1="957.3" y1="515.9" x2="993.2" y2="390.4" stroke="#e8191e" stroke-width="3.6"/>
<path d="M997.5 375.5 L1001.2 393.7 L984.7 389.0Z" fill="#e8191e"/>
<line x1="1009.9" y1="120.1" x2="1055.7" y2="351.9" stroke="#e8191e" stroke-width="4.3"/>
<path d="M1059.9 373.2 L1044.0 353.2 L1067.0 348.7Z" fill="#e8191e"/>
<line x1="1095.3" y1="160.9" x2="1140.0" y2="507.7" stroke="#e8191e" stroke-width="4.3"/>
<path d="M1142.8 529.2 L1128.4 508.2 L1151.4 505.2Z" fill="#e8191e"/>
<text class="cl" transform="translate(259.2 95.2) rotate(-45)" text-anchor="middle" y="7">2</text>
<text class="cl" transform="translate(303.0 132.0) rotate(90)" text-anchor="middle" y="7">1</text>
<text class="cl" transform="translate(203.6 189.2) rotate(90)" text-anchor="middle" y="7">0</text>
<text class="cl" transform="translate(130.8 167.6) rotate(90)" text-anchor="middle" y="7">-1</text>
<text class="cl" transform="translate(190.0 231.6) rotate(-90)" text-anchor="middle" y="7">-1</text>
<text class="cl" transform="translate(193.0 330.0) rotate(0)" text-anchor="middle" y="7">-2</text>
<text class="cl" transform="translate(508.0 125.0) rotate(90)" text-anchor="middle" y="7">1</text>
<text class="cl" transform="translate(553.5 146.8) rotate(-90)" text-anchor="middle" y="7">1</text>
<text class="cl" transform="translate(462.4 304.6) rotate(-80)" text-anchor="middle" y="7">-2</text>
<text class="cl" transform="translate(450.0 441.0) rotate(-90)" text-anchor="middle" y="7">-4</text>
<text class="cl" transform="translate(546.3 507.4) rotate(20)" text-anchor="middle" y="7">-4</text>
<text class="cl" transform="translate(467.8 531.8) rotate(0)" text-anchor="middle" y="7">-3</text>
<text class="cl" transform="translate(281.0 521.0) rotate(90)" text-anchor="middle" y="7">0</text>
<text class="cl" transform="translate(357.0 465.0) rotate(-90)" text-anchor="middle" y="7">-1</text>
<text class="cl" transform="translate(790.5 194.8) rotate(-45)" text-anchor="middle" y="7">-1</text>
<text class="cl" transform="translate(804.0 457.0) rotate(0)" text-anchor="middle" y="7">1</text>
<text class="cl" transform="translate(868.0 469.0) rotate(90)" text-anchor="middle" y="7">1</text>
<text class="cl" transform="translate(907.0 478.0) rotate(90)" text-anchor="middle" y="7">0</text>
<text class="cl" transform="translate(868.0 515.6) rotate(90)" text-anchor="middle" y="7">0</text>
<text class="cl" transform="translate(974.0 390.0) rotate(90)" text-anchor="middle" y="7">-1</text>
<text class="cl" transform="translate(1013.0 440.0) rotate(90)" text-anchor="middle" y="7">-1</text>
<text class="cl" transform="translate(1075.0 528.0) rotate(90)" text-anchor="middle" y="7">-1</text>
<text class="cl" transform="translate(1115.0 518.0) rotate(90)" text-anchor="middle" y="7">-1</text>
<text class="cl" transform="translate(1009.6 524.0) rotate(-90)" text-anchor="middle" y="7">-2</text>
<text class="cl" transform="translate(1033.0 278.0) rotate(-90)" text-anchor="middle" y="7">-2</text>
<text class="cl" transform="translate(1115.0 96.5) rotate(-90)" text-anchor="middle" y="7">-1</text>
<path d="M831.6 353.5L831.6 358.2M831.6 362L831.6 366.8" stroke="#c8c8c8" stroke-width="2.2" stroke-linecap="round"/>
</g>
<rect x="125.4" y="72.0" width="1033.6" height="469.5" fill="none" stroke="#f0f0f0" stroke-width="2"/>
<line x1="108.5" y1="72.0" x2="125.4" y2="72.0" stroke="#f0f0f0" stroke-width="2"/>
<text x="99.2" y="81.0" font-size="26" text-anchor="end">1</text>
<line x1="108.5" y1="119.1" x2="125.4" y2="119.1" stroke="#f0f0f0" stroke-width="2"/>
<text x="99.2" y="128.1" font-size="26" text-anchor="end">2</text>
<line x1="108.5" y1="146.7" x2="125.4" y2="146.7" stroke="#f0f0f0" stroke-width="2"/>
<text x="99.2" y="155.7" font-size="26" text-anchor="end">3</text>
<line x1="108.5" y1="181.4" x2="125.4" y2="181.4" stroke="#f0f0f0" stroke-width="2"/>
<text x="99.2" y="190.4" font-size="26" text-anchor="end">5</text>
<line x1="108.5" y1="204.3" x2="125.4" y2="204.3" stroke="#f0f0f0" stroke-width="2"/>
<text x="99.2" y="213.3" font-size="26" text-anchor="end">7</text>
<line x1="108.5" y1="228.5" x2="125.4" y2="228.5" stroke="#f0f0f0" stroke-width="2"/>
<text x="99.2" y="237.5" font-size="26" text-anchor="end">10</text>
<line x1="108.5" y1="275.6" x2="125.4" y2="275.6" stroke="#f0f0f0" stroke-width="2"/>
<text x="99.2" y="284.6" font-size="26" text-anchor="end">20</text>
<line x1="108.5" y1="303.2" x2="125.4" y2="303.2" stroke="#f0f0f0" stroke-width="2"/>
<text x="99.2" y="312.2" font-size="26" text-anchor="end">30</text>
<line x1="108.5" y1="337.9" x2="125.4" y2="337.9" stroke="#f0f0f0" stroke-width="2"/>
<text x="99.2" y="346.9" font-size="26" text-anchor="end">50</text>
<line x1="108.5" y1="360.8" x2="125.4" y2="360.8" stroke="#f0f0f0" stroke-width="2"/>
<text x="99.2" y="369.8" font-size="26" text-anchor="end">70</text>
<line x1="108.5" y1="385.0" x2="125.4" y2="385.0" stroke="#f0f0f0" stroke-width="2"/>
<text x="99.2" y="394.0" font-size="26" text-anchor="end">100</text>
<line x1="108.5" y1="432.1" x2="125.4" y2="432.1" stroke="#f0f0f0" stroke-width="2"/>
<text x="99.2" y="441.1" font-size="26" text-anchor="end">200</text>
<line x1="108.5" y1="459.7" x2="125.4" y2="459.7" stroke="#f0f0f0" stroke-width="2"/>
<text x="99.2" y="468.7" font-size="26" text-anchor="end">300</text>
<line x1="108.5" y1="494.4" x2="125.4" y2="494.4" stroke="#f0f0f0" stroke-width="2"/>
<text x="99.2" y="503.4" font-size="26" text-anchor="end">500</text>
<line x1="108.5" y1="517.3" x2="125.4" y2="517.3" stroke="#f0f0f0" stroke-width="2"/>
<text x="99.2" y="526.3" font-size="26" text-anchor="end">700</text>
<line x1="108.5" y1="541.5" x2="125.4" y2="541.5" stroke="#f0f0f0" stroke-width="2"/>
<text x="99.2" y="550.5" font-size="26" text-anchor="end">1000</text>
<line x1="125.4" y1="541.5" x2="125.4" y2="554.0" stroke="#f0f0f0" stroke-width="2"/>
<line x1="139.0" y1="541.5" x2="139.0" y2="554.0" stroke="#f0f0f0" stroke-width="2"/>
<line x1="152.6" y1="541.5" x2="152.6" y2="554.0" stroke="#f0f0f0" stroke-width="2"/>
<line x1="166.2" y1="541.5" x2="166.2" y2="554.0" stroke="#f0f0f0" stroke-width="2"/>
<line x1="179.8" y1="541.5" x2="179.8" y2="554.0" stroke="#f0f0f0" stroke-width="2"/>
<line x1="193.4" y1="541.5" x2="193.4" y2="559.0" stroke="#f0f0f0" stroke-width="2"/>
<line x1="206.9" y1="541.5" x2="206.9" y2="554.0" stroke="#f0f0f0" stroke-width="2"/>
<line x1="220.5" y1="541.5" x2="220.5" y2="554.0" stroke="#f0f0f0" stroke-width="2"/>
<line x1="234.1" y1="541.5" x2="234.1" y2="554.0" stroke="#f0f0f0" stroke-width="2"/>
<line x1="247.7" y1="541.5" x2="247.7" y2="554.0" stroke="#f0f0f0" stroke-width="2"/>
<line x1="261.3" y1="541.5" x2="261.3" y2="554.0" stroke="#f0f0f0" stroke-width="2"/>
<line x1="274.9" y1="541.5" x2="274.9" y2="554.0" stroke="#f0f0f0" stroke-width="2"/>
<line x1="288.5" y1="541.5" x2="288.5" y2="554.0" stroke="#f0f0f0" stroke-width="2"/>
<line x1="302.1" y1="541.5" x2="302.1" y2="554.0" stroke="#f0f0f0" stroke-width="2"/>
<line x1="315.7" y1="541.5" x2="315.7" y2="559.0" stroke="#f0f0f0" stroke-width="2"/>
<line x1="329.2" y1="541.5" x2="329.2" y2="554.0" stroke="#f0f0f0" stroke-width="2"/>
<line x1="342.8" y1="541.5" x2="342.8" y2="554.0" stroke="#f0f0f0" stroke-width="2"/>
<line x1="356.4" y1="541.5" x2="356.4" y2="554.0" stroke="#f0f0f0" stroke-width="2"/>
<line x1="370.0" y1="541.5" x2="370.0" y2="554.0" stroke="#f0f0f0" stroke-width="2"/>
<line x1="383.6" y1="541.5" x2="383.6" y2="554.0" stroke="#f0f0f0" stroke-width="2"/>
<line x1="397.2" y1="541.5" x2="397.2" y2="554.0" stroke="#f0f0f0" stroke-width="2"/>
<line x1="410.8" y1="541.5" x2="410.8" y2="554.0" stroke="#f0f0f0" stroke-width="2"/>
<line x1="424.4" y1="541.5" x2="424.4" y2="554.0" stroke="#f0f0f0" stroke-width="2"/>
<line x1="438.0" y1="541.5" x2="438.0" y2="554.0" stroke="#f0f0f0" stroke-width="2"/>
<line x1="451.6" y1="541.5" x2="451.6" y2="559.0" stroke="#f0f0f0" stroke-width="2"/>
<line x1="465.1" y1="541.5" x2="465.1" y2="554.0" stroke="#f0f0f0" stroke-width="2"/>
<line x1="478.7" y1="541.5" x2="478.7" y2="554.0" stroke="#f0f0f0" stroke-width="2"/>
<line x1="492.3" y1="541.5" x2="492.3" y2="554.0" stroke="#f0f0f0" stroke-width="2"/>
<line x1="505.9" y1="541.5" x2="505.9" y2="554.0" stroke="#f0f0f0" stroke-width="2"/>
<line x1="519.5" y1="541.5" x2="519.5" y2="554.0" stroke="#f0f0f0" stroke-width="2"/>
<line x1="533.1" y1="541.5" x2="533.1" y2="554.0" stroke="#f0f0f0" stroke-width="2"/>
<line x1="546.7" y1="541.5" x2="546.7" y2="554.0" stroke="#f0f0f0" stroke-width="2"/>
<line x1="560.3" y1="541.5" x2="560.3" y2="554.0" stroke="#f0f0f0" stroke-width="2"/>
<line x1="573.9" y1="541.5" x2="573.9" y2="554.0" stroke="#f0f0f0" stroke-width="2"/>
<line x1="587.5" y1="541.5" x2="587.5" y2="554.0" stroke="#f0f0f0" stroke-width="2"/>
<line x1="601.0" y1="541.5" x2="601.0" y2="554.0" stroke="#f0f0f0" stroke-width="2"/>
<line x1="614.6" y1="541.5" x2="614.6" y2="559.0" stroke="#f0f0f0" stroke-width="2"/>
<line x1="628.2" y1="541.5" x2="628.2" y2="554.0" stroke="#f0f0f0" stroke-width="2"/>
<line x1="641.8" y1="541.5" x2="641.8" y2="554.0" stroke="#f0f0f0" stroke-width="2"/>
<line x1="655.4" y1="541.5" x2="655.4" y2="554.0" stroke="#f0f0f0" stroke-width="2"/>
<line x1="669.0" y1="541.5" x2="669.0" y2="554.0" stroke="#f0f0f0" stroke-width="2"/>
<line x1="682.6" y1="541.5" x2="682.6" y2="554.0" stroke="#f0f0f0" stroke-width="2"/>
<line x1="696.2" y1="541.5" x2="696.2" y2="554.0" stroke="#f0f0f0" stroke-width="2"/>
<line x1="709.8" y1="541.5" x2="709.8" y2="554.0" stroke="#f0f0f0" stroke-width="2"/>
<line x1="723.4" y1="541.5" x2="723.4" y2="554.0" stroke="#f0f0f0" stroke-width="2"/>
<line x1="736.9" y1="541.5" x2="736.9" y2="559.0" stroke="#f0f0f0" stroke-width="2"/>
<line x1="750.5" y1="541.5" x2="750.5" y2="554.0" stroke="#f0f0f0" stroke-width="2"/>
<line x1="764.1" y1="541.5" x2="764.1" y2="554.0" stroke="#f0f0f0" stroke-width="2"/>
<line x1="777.7" y1="541.5" x2="777.7" y2="554.0" stroke="#f0f0f0" stroke-width="2"/>
<line x1="791.3" y1="541.5" x2="791.3" y2="554.0" stroke="#f0f0f0" stroke-width="2"/>
<line x1="804.9" y1="541.5" x2="804.9" y2="554.0" stroke="#f0f0f0" stroke-width="2"/>
<line x1="818.5" y1="541.5" x2="818.5" y2="554.0" stroke="#f0f0f0" stroke-width="2"/>
<line x1="832.1" y1="541.5" x2="832.1" y2="554.0" stroke="#f0f0f0" stroke-width="2"/>
<line x1="845.7" y1="541.5" x2="845.7" y2="554.0" stroke="#f0f0f0" stroke-width="2"/>
<line x1="859.3" y1="541.5" x2="859.3" y2="554.0" stroke="#f0f0f0" stroke-width="2"/>
<line x1="872.9" y1="541.5" x2="872.9" y2="559.0" stroke="#f0f0f0" stroke-width="2"/>
<line x1="886.4" y1="541.5" x2="886.4" y2="554.0" stroke="#f0f0f0" stroke-width="2"/>
<line x1="900.0" y1="541.5" x2="900.0" y2="554.0" stroke="#f0f0f0" stroke-width="2"/>
<line x1="913.6" y1="541.5" x2="913.6" y2="554.0" stroke="#f0f0f0" stroke-width="2"/>
<line x1="927.2" y1="541.5" x2="927.2" y2="554.0" stroke="#f0f0f0" stroke-width="2"/>
<line x1="940.8" y1="541.5" x2="940.8" y2="554.0" stroke="#f0f0f0" stroke-width="2"/>
<line x1="954.4" y1="541.5" x2="954.4" y2="554.0" stroke="#f0f0f0" stroke-width="2"/>
<line x1="968.0" y1="541.5" x2="968.0" y2="554.0" stroke="#f0f0f0" stroke-width="2"/>
<line x1="981.6" y1="541.5" x2="981.6" y2="554.0" stroke="#f0f0f0" stroke-width="2"/>
<line x1="995.2" y1="541.5" x2="995.2" y2="559.0" stroke="#f0f0f0" stroke-width="2"/>
<line x1="1008.8" y1="541.5" x2="1008.8" y2="554.0" stroke="#f0f0f0" stroke-width="2"/>
<line x1="1022.3" y1="541.5" x2="1022.3" y2="554.0" stroke="#f0f0f0" stroke-width="2"/>
<line x1="1035.9" y1="541.5" x2="1035.9" y2="554.0" stroke="#f0f0f0" stroke-width="2"/>
<line x1="1049.5" y1="541.5" x2="1049.5" y2="554.0" stroke="#f0f0f0" stroke-width="2"/>
<line x1="1063.1" y1="541.5" x2="1063.1" y2="554.0" stroke="#f0f0f0" stroke-width="2"/>
<line x1="1076.7" y1="541.5" x2="1076.7" y2="554.0" stroke="#f0f0f0" stroke-width="2"/>
<line x1="1090.3" y1="541.5" x2="1090.3" y2="554.0" stroke="#f0f0f0" stroke-width="2"/>
<line x1="1103.9" y1="541.5" x2="1103.9" y2="554.0" stroke="#f0f0f0" stroke-width="2"/>
<line x1="1117.5" y1="541.5" x2="1117.5" y2="559.0" stroke="#f0f0f0" stroke-width="2"/>
<line x1="1131.1" y1="541.5" x2="1131.1" y2="554.0" stroke="#f0f0f0" stroke-width="2"/>
<line x1="1144.7" y1="541.5" x2="1144.7" y2="554.0" stroke="#f0f0f0" stroke-width="2"/>
<line x1="1158.2" y1="541.5" x2="1158.2" y2="554.0" stroke="#f0f0f0" stroke-width="2"/>
<text x="191.9" y="585" font-size="25.5" text-anchor="middle">0101</text>
<text x="314.2" y="585" font-size="25.5" text-anchor="middle">0110</text>
<text x="450.1" y="585" font-size="25.5" text-anchor="middle">0120</text>
<text x="613.1" y="585" font-size="25.5" text-anchor="middle">0201</text>
<text x="735.4" y="585" font-size="25.5" text-anchor="middle">0210</text>
<text x="871.4" y="585" font-size="25.5" text-anchor="middle">0220</text>
<text x="993.7" y="585" font-size="25.5" text-anchor="middle">0301</text>
<text x="1116.0" y="585" font-size="25.5" text-anchor="middle">0310</text>
<text x="642.4" y="31.5" font-size="39.8" text-anchor="middle">GFS Northern Annular Mode Index</text>
<text x="632.6" y="61.6" font-size="31.5" text-anchor="middle">Fcst Init: 2026-02-25</text>
<text x="642" y="612.8" font-size="28.4" text-anchor="middle">Date (MMDD)</text>
<text transform="translate(24,306.8) rotate(-90)" font-size="30.4" text-anchor="middle">Pressure [hPa]</text>
<text x="31" y="621.6" font-size="24.7">stratobserve.com</text>
<text x="1210" y="621.6" font-size="24.1" text-anchor="end">Figure by Z. D. Lawrence (NMT)</text>
<rect x="1165.6" y="508.09" width="24.8" height="13.71" fill="#e0701f"/>
<rect x="1165.6" y="494.68" width="24.8" height="13.71" fill="#d66a22"/>
<rect x="1165.6" y="481.26" width="24.8" height="13.71" fill="#cb6524"/>
<rect x="1165.6" y="467.85" width="24.8" height="13.71" fill="#bd5f25"/>
<rect x="1165.6" y="454.44" width="24.8" height="13.71" fill="#ac5826"/>
<rect x="1165.6" y="441.02" width="24.8" height="13.71" fill="#985226"/>
<rect x="1165.6" y="427.61" width="24.8" height="13.71" fill="#884c26"/>
<rect x="1165.6" y="414.20" width="24.8" height="13.71" fill="#7e4826"/>
<rect x="1165.6" y="400.79" width="24.8" height="13.71" fill="#734426"/>
<rect x="1165.6" y="387.38" width="24.8" height="13.71" fill="#694026"/>
<rect x="1165.6" y="373.96" width="24.8" height="13.71" fill="#5f3c26"/>
<rect x="1165.6" y="360.55" width="24.8" height="13.71" fill="#553624"/>
<rect x="1165.6" y="347.14" width="24.8" height="13.71" fill="#483123"/>
<rect x="1165.6" y="333.72" width="24.8" height="13.71" fill="#3a2a21"/>
<rect x="1165.6" y="320.31" width="24.8" height="13.71" fill="#2e2620"/>
<rect x="1165.6" y="306.90" width="24.8" height="13.71" fill="#252322"/>
<rect x="1165.6" y="293.49" width="24.8" height="13.71" fill="#232628"/>
<rect x="1165.6" y="280.07" width="24.8" height="13.71" fill="#263034"/>
<rect x="1165.6" y="266.66" width="24.8" height="13.71" fill="#2a383f"/>
<rect x="1165.6" y="253.25" width="24.8" height="13.71" fill="#2d3e48"/>
<rect x="1165.6" y="239.84" width="24.8" height="13.71" fill="#304551"/>
<rect x="1165.6" y="226.43" width="24.8" height="13.71" fill="#324c5a"/>
<rect x="1165.6" y="213.01" width="24.8" height="13.71" fill="#345364"/>
<rect x="1165.6" y="199.60" width="24.8" height="13.71" fill="#385c6f"/>
<rect x="1165.6" y="186.19" width="24.8" height="13.71" fill="#3b6379"/>
<rect x="1165.6" y="172.77" width="24.8" height="13.71" fill="#3e6980"/>
<rect x="1165.6" y="159.36" width="24.8" height="13.71" fill="#427089"/>
<rect x="1165.6" y="145.95" width="24.8" height="13.71" fill="#487894"/>
<rect x="1165.6" y="132.54" width="24.8" height="13.71" fill="#4c809d"/>
<rect x="1165.6" y="119.12" width="24.8" height="13.71" fill="#5286a6"/>
<rect x="1165.6" y="105.71" width="24.8" height="13.71" fill="#588eae"/>
<rect x="1165.6" y="92.30" width="24.8" height="13.71" fill="#5e95b8"/>
<path d="M1165.6 92.3 L1190.4 92.3 L1178.0 71Z" fill="#a8d8f4"/>
<path d="M1165.6 521.5 L1190.4 521.5 L1178.0 542Z" fill="#e8a800"/>
<line x1="1165.6" y1="508.09" x2="1190.4" y2="508.09" stroke="#6e6e6e" stroke-width="1"/>
<line x1="1165.6" y1="494.68" x2="1190.4" y2="494.68" stroke="#6e6e6e" stroke-width="1"/>
<line x1="1165.6" y1="481.26" x2="1190.4" y2="481.26" stroke="#6e6e6e" stroke-width="1"/>
<line x1="1165.6" y1="467.85" x2="1190.4" y2="467.85" stroke="#6e6e6e" stroke-width="1"/>
<line x1="1165.6" y1="454.44" x2="1190.4" y2="454.44" stroke="#6e6e6e" stroke-width="1"/>
<line x1="1165.6" y1="441.02" x2="1190.4" y2="441.02" stroke="#6e6e6e" stroke-width="1"/>
<line x1="1165.6" y1="427.61" x2="1190.4" y2="427.61" stroke="#6e6e6e" stroke-width="1"/>
<line x1="1165.6" y1="414.20" x2="1190.4" y2="414.20" stroke="#6e6e6e" stroke-width="1"/>
<line x1="1165.6" y1="400.79" x2="1190.4" y2="400.79" stroke="#6e6e6e" stroke-width="1"/>
<line x1="1165.6" y1="387.38" x2="1190.4" y2="387.38" stroke="#6e6e6e" stroke-width="1"/>
<line x1="1165.6" y1="373.96" x2="1190.4" y2="373.96" stroke="#6e6e6e" stroke-width="1"/>
<line x1="1165.6" y1="360.55" x2="1190.4" y2="360.55" stroke="#6e6e6e" stroke-width="1"/>
<line x1="1165.6" y1="347.14" x2="1190.4" y2="347.14" stroke="#6e6e6e" stroke-width="1"/>
<line x1="1165.6" y1="333.72" x2="1190.4" y2="333.72" stroke="#6e6e6e" stroke-width="1"/>
<line x1="1165.6" y1="320.31" x2="1190.4" y2="320.31" stroke="#6e6e6e" stroke-width="1"/>
<line x1="1165.6" y1="306.90" x2="1190.4" y2="306.90" stroke="#6e6e6e" stroke-width="1"/>
<line x1="1165.6" y1="293.49" x2="1190.4" y2="293.49" stroke="#6e6e6e" stroke-width="1"/>
<line x1="1165.6" y1="280.07" x2="1190.4" y2="280.07" stroke="#6e6e6e" stroke-width="1"/>
<line x1="1165.6" y1="266.66" x2="1190.4" y2="266.66" stroke="#6e6e6e" stroke-width="1"/>
<line x1="1165.6" y1="253.25" x2="1190.4" y2="253.25" stroke="#6e6e6e" stroke-width="1"/>
<line x1="1165.6" y1="239.84" x2="1190.4" y2="239.84" stroke="#6e6e6e" stroke-width="1"/>
<line x1="1165.6" y1="226.43" x2="1190.4" y2="226.43" stroke="#6e6e6e" stroke-width="1"/>
<line x1="1165.6" y1="213.01" x2="1190.4" y2="213.01" stroke="#6e6e6e" stroke-width="1"/>
<line x1="1165.6" y1="199.60" x2="1190.4" y2="199.60" stroke="#6e6e6e" stroke-width="1"/>
<line x1="1165.6" y1="186.19" x2="1190.4" y2="186.19" stroke="#6e6e6e" stroke-width="1"/>
<line x1="1165.6" y1="172.77" x2="1190.4" y2="172.77" stroke="#6e6e6e" stroke-width="1"/>
<line x1="1165.6" y1="159.36" x2="1190.4" y2="159.36" stroke="#6e6e6e" stroke-width="1"/>
<line x1="1165.6" y1="145.95" x2="1190.4" y2="145.95" stroke="#6e6e6e" stroke-width="1"/>
<line x1="1165.6" y1="132.54" x2="1190.4" y2="132.54" stroke="#6e6e6e" stroke-width="1"/>
<line x1="1165.6" y1="119.12" x2="1190.4" y2="119.12" stroke="#6e6e6e" stroke-width="1"/>
<line x1="1165.6" y1="105.71" x2="1190.4" y2="105.71" stroke="#6e6e6e" stroke-width="1"/>
<path d="M1178.0 542 L1165.6 521.5 L1165.6 92.3 L1178.0 71 L1190.4 92.3 L1190.4 521.5 Z" fill="none" stroke="#777" stroke-width="1"/>
<line x1="1190.4" y1="521.5" x2="1199" y2="521.5" stroke="#f0f0f0" stroke-width="2"/>
<text x="1205.5" y="529.2" font-size="21.5">−4</text>
<line x1="1190.4" y1="467.9" x2="1199" y2="467.9" stroke="#f0f0f0" stroke-width="2"/>
<text x="1205.5" y="475.6" font-size="21.5">−3</text>
<line x1="1190.4" y1="414.2" x2="1199" y2="414.2" stroke="#f0f0f0" stroke-width="2"/>
<text x="1205.5" y="421.9" font-size="21.5">−2</text>
<line x1="1190.4" y1="360.6" x2="1199" y2="360.6" stroke="#f0f0f0" stroke-width="2"/>
<text x="1205.5" y="368.2" font-size="21.5">−1</text>
<line x1="1190.4" y1="306.9" x2="1199" y2="306.9" stroke="#f0f0f0" stroke-width="2"/>
<text x="1205.5" y="314.6" font-size="21.5">0</text>
<line x1="1190.4" y1="253.2" x2="1199" y2="253.2" stroke="#f0f0f0" stroke-width="2"/>
<text x="1205.5" y="260.9" font-size="21.5">1</text>
<line x1="1190.4" y1="199.6" x2="1199" y2="199.6" stroke="#f0f0f0" stroke-width="2"/>
<text x="1205.5" y="207.3" font-size="21.5">2</text>
<line x1="1190.4" y1="145.9" x2="1199" y2="145.9" stroke="#f0f0f0" stroke-width="2"/>
<text x="1205.5" y="153.6" font-size="21.5">3</text>
<line x1="1190.4" y1="92.3" x2="1199" y2="92.3" stroke="#f0f0f0" stroke-width="2"/>
<text x="1205.5" y="100.0" font-size="21.5">4</text>
</svg></body></html>
